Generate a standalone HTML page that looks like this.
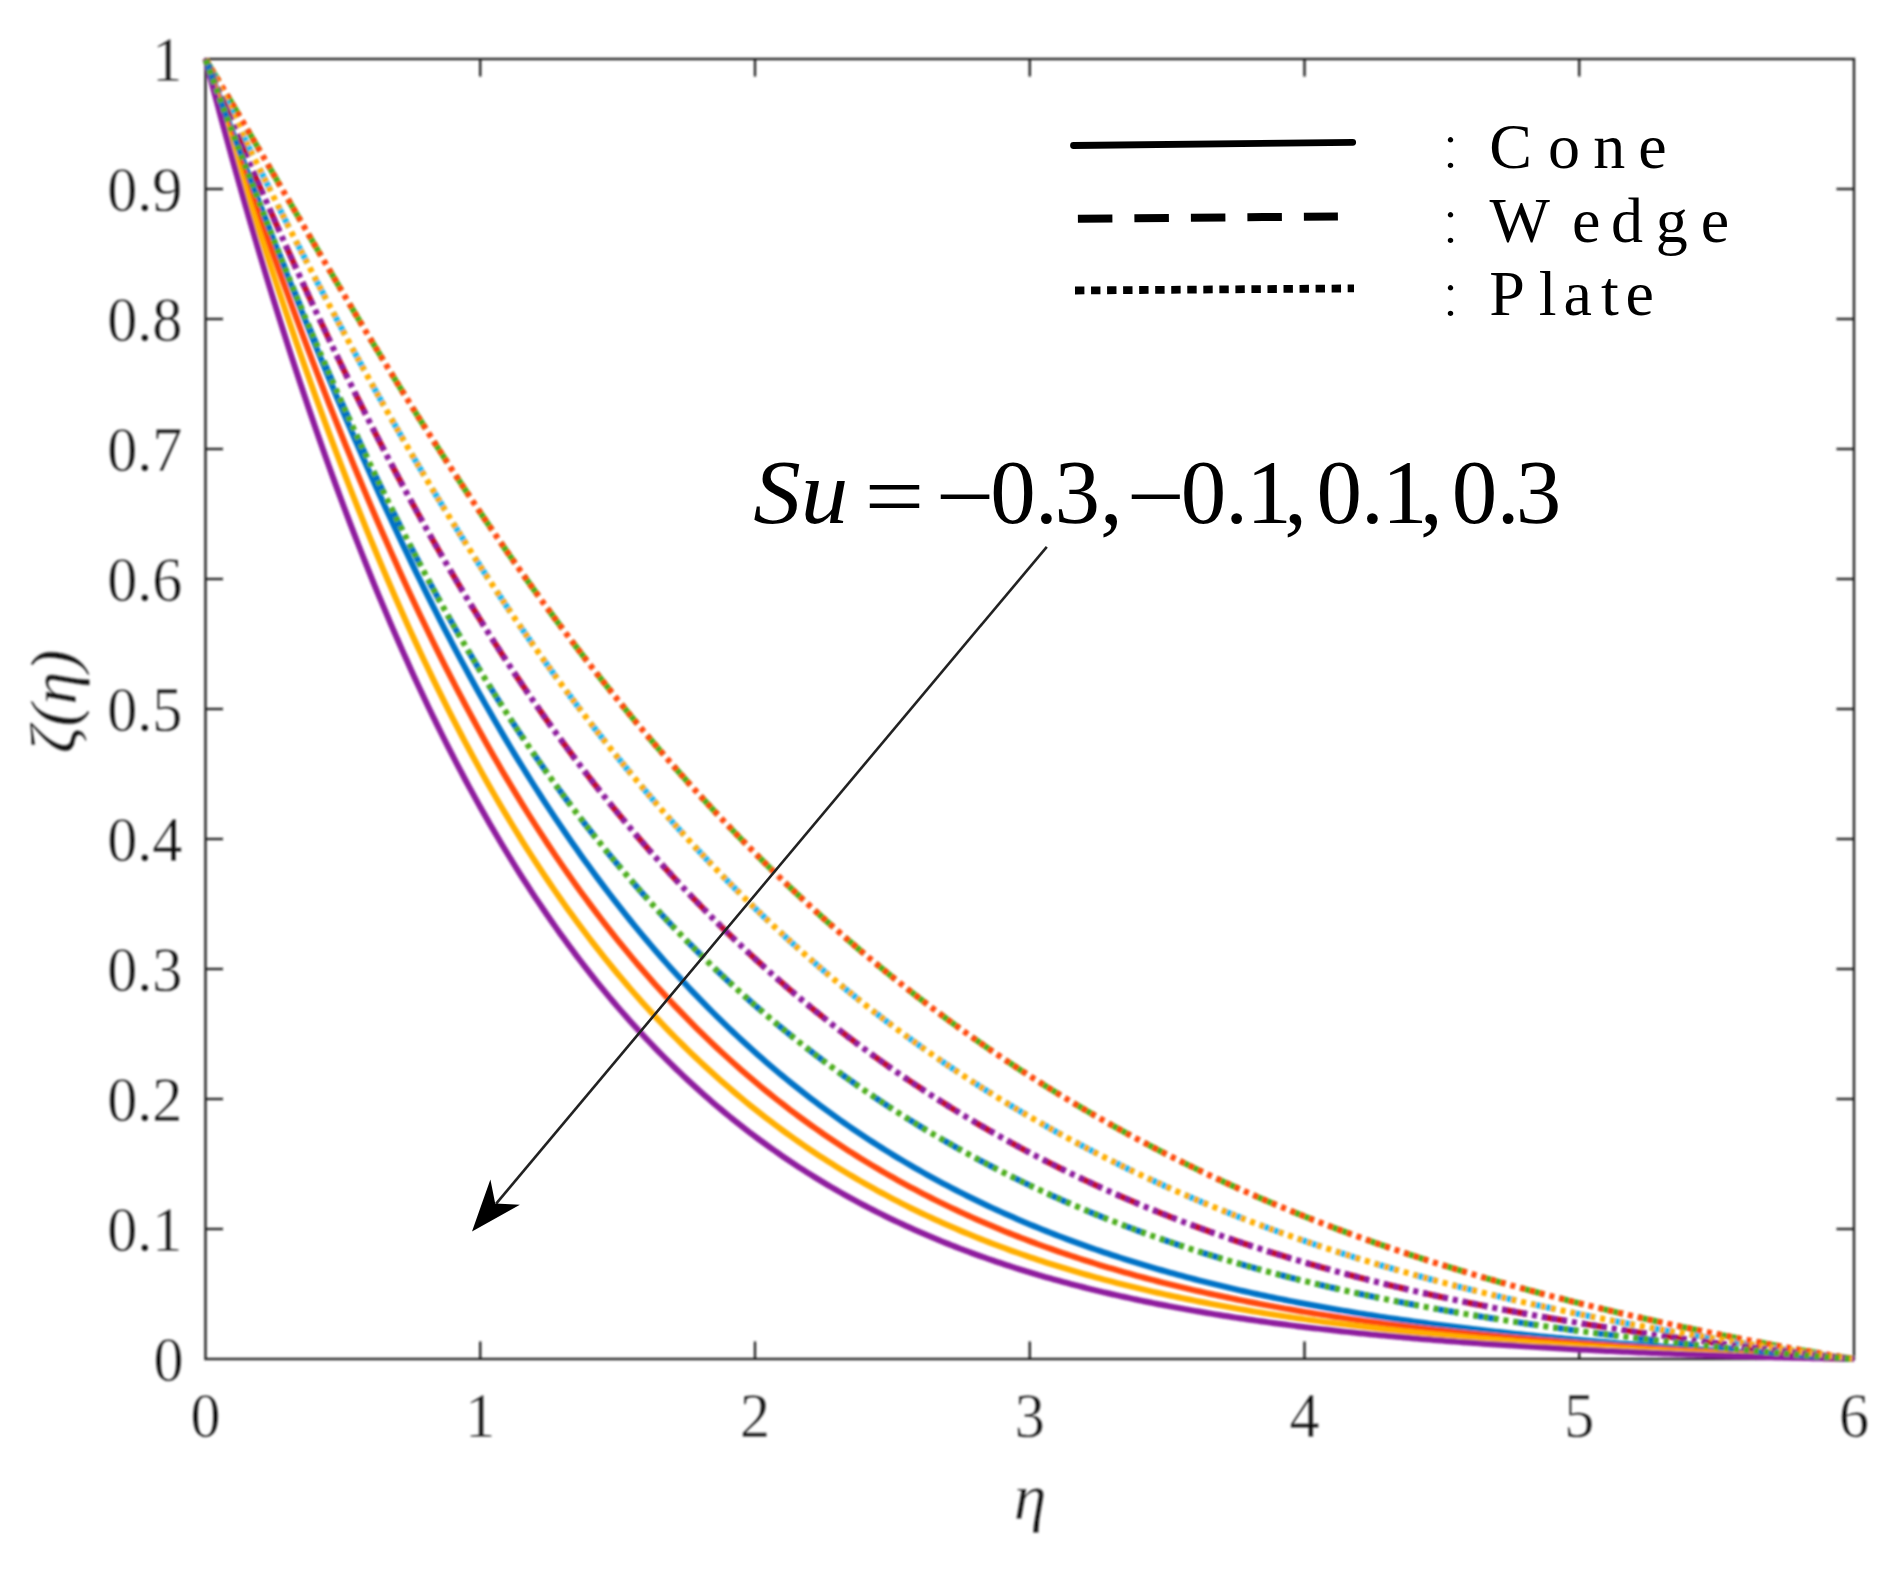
<!DOCTYPE html>
<html lang="en"><head><meta charset="utf-8"><title>Concentration profile</title>
<style>html,body{margin:0;padding:0;background:#fff;}body{width:1903px;height:1573px;overflow:hidden;}svg{display:block;}</style></head>
<body>
<svg width="1903" height="1573" viewBox="0 0 1903 1573">
<rect x="0" y="0" width="1903" height="1573" fill="#ffffff"/>
<defs><filter id="soft" filterUnits="userSpaceOnUse" x="0" y="0" width="1903" height="1573"><feGaussianBlur stdDeviation="0.8"/></filter></defs>
<g filter="url(#soft)">
<g stroke="#222222" stroke-width="2.4" fill="none">
<rect x="205.5" y="59.0" width="1648.5" height="1300.0"/>
<line x1="480.25" y1="1359.0" x2="480.25" y2="1341.5"/>
<line x1="480.25" y1="59.0" x2="480.25" y2="76.5"/>
<line x1="755.00" y1="1359.0" x2="755.00" y2="1341.5"/>
<line x1="755.00" y1="59.0" x2="755.00" y2="76.5"/>
<line x1="1029.75" y1="1359.0" x2="1029.75" y2="1341.5"/>
<line x1="1029.75" y1="59.0" x2="1029.75" y2="76.5"/>
<line x1="1304.50" y1="1359.0" x2="1304.50" y2="1341.5"/>
<line x1="1304.50" y1="59.0" x2="1304.50" y2="76.5"/>
<line x1="1579.25" y1="1359.0" x2="1579.25" y2="1341.5"/>
<line x1="1579.25" y1="59.0" x2="1579.25" y2="76.5"/>
<line x1="205.5" y1="1229.00" x2="223.0" y2="1229.00"/>
<line x1="1854.0" y1="1229.00" x2="1836.5" y2="1229.00"/>
<line x1="205.5" y1="1099.00" x2="223.0" y2="1099.00"/>
<line x1="1854.0" y1="1099.00" x2="1836.5" y2="1099.00"/>
<line x1="205.5" y1="969.00" x2="223.0" y2="969.00"/>
<line x1="1854.0" y1="969.00" x2="1836.5" y2="969.00"/>
<line x1="205.5" y1="839.00" x2="223.0" y2="839.00"/>
<line x1="1854.0" y1="839.00" x2="1836.5" y2="839.00"/>
<line x1="205.5" y1="709.00" x2="223.0" y2="709.00"/>
<line x1="1854.0" y1="709.00" x2="1836.5" y2="709.00"/>
<line x1="205.5" y1="579.00" x2="223.0" y2="579.00"/>
<line x1="1854.0" y1="579.00" x2="1836.5" y2="579.00"/>
<line x1="205.5" y1="449.00" x2="223.0" y2="449.00"/>
<line x1="1854.0" y1="449.00" x2="1836.5" y2="449.00"/>
<line x1="205.5" y1="319.00" x2="223.0" y2="319.00"/>
<line x1="1854.0" y1="319.00" x2="1836.5" y2="319.00"/>
<line x1="205.5" y1="189.00" x2="223.0" y2="189.00"/>
<line x1="1854.0" y1="189.00" x2="1836.5" y2="189.00"/>
</g>
<g fill="none" stroke-width="6.0" stroke-linejoin="round">
<path d="M205.50,59.00 L209.62,70.18 L213.74,81.34 L217.86,92.48 L221.99,103.60 L226.11,114.69 L230.23,125.76 L234.35,136.80 L238.47,147.81 L242.59,158.78 L246.71,169.72 L250.83,180.62 L254.95,191.49 L259.08,202.31 L263.20,213.09 L267.32,223.83 L271.44,234.52 L275.56,245.16 L279.68,255.75 L283.80,266.29 L287.93,276.78 L292.05,287.22 L296.17,297.61 L300.29,307.93 L304.41,318.21 L308.53,328.42 L312.65,338.58 L316.77,348.67 L320.89,358.71 L325.02,368.68 L329.14,378.59 L333.26,388.44 L337.38,398.22 L341.50,407.94 L345.62,417.60 L349.74,427.19 L353.87,436.71 L357.99,446.17 L362.11,455.55 L366.23,464.88 L370.35,474.13 L374.47,483.31 L378.59,492.43 L382.71,501.47 L386.83,510.45 L390.96,519.36 L395.08,528.20 L399.20,536.96 L403.32,545.66 L407.44,554.29 L411.56,562.85 L415.68,571.33 L419.81,579.75 L423.93,588.09 L428.05,596.37 L432.17,604.57 L436.29,612.71 L440.41,620.77 L444.53,628.76 L448.65,636.69 L452.77,644.54 L456.90,652.32 L461.02,660.04 L465.14,667.68 L469.26,675.26 L473.38,682.76 L477.50,690.20 L481.62,697.57 L485.75,704.87 L489.87,712.10 L493.99,719.26 L498.11,726.36 L502.23,733.39 L506.35,740.35 L510.47,747.25 L514.59,754.08 L518.71,760.84 L522.84,767.54 L526.96,774.17 L531.08,780.74 L535.20,787.25 L539.32,793.69 L543.44,800.06 L547.56,806.37 L551.68,812.62 L555.81,818.81 L559.93,824.94 L564.05,831.00 L568.17,837.00 L572.29,842.95 L576.41,848.83 L580.53,854.65 L584.65,860.41 L588.78,866.11 L592.90,871.76 L597.02,877.35 L601.14,882.87 L605.26,888.35 L609.38,893.76 L613.50,899.12 L617.62,904.42 L621.75,909.67 L625.87,914.86 L629.99,920.00 L634.11,925.08 L638.23,930.11 L642.35,935.09 L646.47,940.01 L650.60,944.88 L654.72,949.70 L658.84,954.47 L662.96,959.19 L667.08,963.86 L671.20,968.47 L675.32,973.04 L679.44,977.56 L683.57,982.03 L687.69,986.45 L691.81,990.83 L695.93,995.15 L700.05,999.43 L704.17,1003.67 L708.29,1007.86 L712.41,1012.00 L716.53,1016.09 L720.66,1020.15 L724.78,1024.15 L728.90,1028.12 L733.02,1032.04 L737.14,1035.92 L741.26,1039.75 L745.38,1043.55 L749.50,1047.30 L753.63,1051.01 L757.75,1054.68 L761.87,1058.31 L765.99,1061.89 L770.11,1065.44 L774.23,1068.95 L778.35,1072.42 L782.48,1075.86 L786.60,1079.25 L790.72,1082.61 L794.84,1085.93 L798.96,1089.21 L803.08,1092.45 L807.20,1095.66 L811.32,1098.84 L815.44,1101.97 L819.57,1105.08 L823.69,1108.15 L827.81,1111.18 L831.93,1114.18 L836.05,1117.15 L840.17,1120.08 L844.29,1122.98 L848.41,1125.85 L852.54,1128.68 L856.66,1131.48 L860.78,1134.25 L864.90,1136.99 L869.02,1139.70 L873.14,1142.38 L877.26,1145.03 L881.38,1147.65 L885.51,1150.24 L889.63,1152.80 L893.75,1155.33 L897.87,1157.83 L901.99,1160.30 L906.11,1162.74 L910.23,1165.16 L914.36,1167.55 L918.48,1169.91 L922.60,1172.25 L926.72,1174.56 L930.84,1176.84 L934.96,1179.10 L939.08,1181.33 L943.20,1183.53 L947.32,1185.71 L951.45,1187.87 L955.57,1190.00 L959.69,1192.10 L963.81,1194.18 L967.93,1196.24 L972.05,1198.27 L976.17,1200.28 L980.29,1202.27 L984.42,1204.24 L988.54,1206.18 L992.66,1208.10 L996.78,1209.99 L1000.90,1211.87 L1005.02,1213.72 L1009.14,1215.56 L1013.26,1217.37 L1017.39,1219.16 L1021.51,1220.93 L1025.63,1222.68 L1029.75,1224.40 L1033.87,1226.11 L1037.99,1227.80 L1042.11,1229.47 L1046.24,1231.12 L1050.36,1232.75 L1054.48,1234.36 L1058.60,1235.95 L1062.72,1237.53 L1066.84,1239.08 L1070.96,1240.62 L1075.08,1242.14 L1079.20,1243.64 L1083.33,1245.13 L1087.45,1246.60 L1091.57,1248.05 L1095.69,1249.48 L1099.81,1250.89 L1103.93,1252.29 L1108.05,1253.68 L1112.17,1255.04 L1116.30,1256.40 L1120.42,1257.73 L1124.54,1259.05 L1128.66,1260.35 L1132.78,1261.64 L1136.90,1262.92 L1141.02,1264.17 L1145.14,1265.42 L1149.27,1266.65 L1153.39,1267.86 L1157.51,1269.06 L1161.63,1270.25 L1165.75,1271.42 L1169.87,1272.58 L1173.99,1273.72 L1178.12,1274.85 L1182.24,1275.97 L1186.36,1277.08 L1190.48,1278.17 L1194.60,1279.25 L1198.72,1280.31 L1202.84,1281.37 L1206.96,1282.41 L1211.09,1283.43 L1215.21,1284.45 L1219.33,1285.46 L1223.45,1286.45 L1227.57,1287.43 L1231.69,1288.40 L1235.81,1289.36 L1239.93,1290.30 L1244.05,1291.24 L1248.18,1292.16 L1252.30,1293.07 L1256.42,1293.98 L1260.54,1294.87 L1264.66,1295.75 L1268.78,1296.62 L1272.90,1297.48 L1277.02,1298.33 L1281.15,1299.17 L1285.27,1300.00 L1289.39,1300.82 L1293.51,1301.63 L1297.63,1302.43 L1301.75,1303.22 L1305.87,1304.00 L1309.99,1304.78 L1314.12,1305.54 L1318.24,1306.29 L1322.36,1307.04 L1326.48,1307.78 L1330.60,1308.50 L1334.72,1309.22 L1338.84,1309.94 L1342.96,1310.64 L1347.09,1311.33 L1351.21,1312.02 L1355.33,1312.70 L1359.45,1313.37 L1363.57,1314.03 L1367.69,1314.69 L1371.81,1315.33 L1375.93,1315.97 L1380.06,1316.60 L1384.18,1317.23 L1388.30,1317.85 L1392.42,1318.46 L1396.54,1319.06 L1400.66,1319.66 L1404.78,1320.25 L1408.90,1320.83 L1413.03,1321.40 L1417.15,1321.97 L1421.27,1322.53 L1425.39,1323.09 L1429.51,1323.64 L1433.63,1324.18 L1437.75,1324.72 L1441.88,1325.25 L1446.00,1325.78 L1450.12,1326.30 L1454.24,1326.81 L1458.36,1327.32 L1462.48,1327.82 L1466.60,1328.32 L1470.72,1328.81 L1474.85,1329.29 L1478.97,1329.77 L1483.09,1330.24 L1487.21,1330.71 L1491.33,1331.18 L1495.45,1331.64 L1499.57,1332.09 L1503.69,1332.54 L1507.82,1332.98 L1511.94,1333.42 L1516.06,1333.86 L1520.18,1334.29 L1524.30,1334.71 L1528.42,1335.13 L1532.54,1335.55 L1536.66,1335.96 L1540.78,1336.37 L1544.91,1336.77 L1549.03,1337.17 L1553.15,1337.56 L1557.27,1337.95 L1561.39,1338.34 L1565.51,1338.72 L1569.63,1339.10 L1573.75,1339.48 L1577.88,1339.85 L1582.00,1340.22 L1586.12,1340.58 L1590.24,1340.94 L1594.36,1341.30 L1598.48,1341.65 L1602.60,1342.00 L1606.72,1342.35 L1610.85,1342.69 L1614.97,1343.03 L1619.09,1343.37 L1623.21,1343.70 L1627.33,1344.03 L1631.45,1344.36 L1635.57,1344.68 L1639.69,1345.01 L1643.82,1345.33 L1647.94,1345.64 L1652.06,1345.96 L1656.18,1346.27 L1660.30,1346.57 L1664.42,1346.88 L1668.54,1347.18 L1672.66,1347.48 L1676.79,1347.78 L1680.91,1348.08 L1685.03,1348.37 L1689.15,1348.66 L1693.27,1348.95 L1697.39,1349.24 L1701.51,1349.53 L1705.63,1349.81 L1709.76,1350.09 L1713.88,1350.37 L1718.00,1350.65 L1722.12,1350.92 L1726.24,1351.19 L1730.36,1351.46 L1734.48,1351.73 L1738.61,1352.00 L1742.73,1352.27 L1746.85,1352.53 L1750.97,1352.80 L1755.09,1353.06 L1759.21,1353.32 L1763.33,1353.58 L1767.45,1353.84 L1771.58,1354.09 L1775.70,1354.35 L1779.82,1354.60 L1783.94,1354.85 L1788.06,1355.10 L1792.18,1355.35 L1796.30,1355.60 L1800.42,1355.85 L1804.54,1356.10 L1808.67,1356.34 L1812.79,1356.59 L1816.91,1356.83 L1821.03,1357.08 L1825.15,1357.32 L1829.27,1357.56 L1833.39,1357.80 L1837.51,1358.04 L1841.64,1358.28 L1845.76,1358.52 L1849.88,1358.76 L1854.00,1359.00" stroke="#0072C6"/>
<path d="M205.50,59.00 L209.62,71.19 L213.74,83.36 L217.86,95.50 L221.99,107.61 L226.11,119.68 L230.23,131.73 L234.35,143.73 L238.47,155.69 L242.59,167.60 L246.71,179.47 L250.83,191.29 L254.95,203.06 L259.08,214.77 L263.20,226.42 L267.32,238.02 L271.44,249.55 L275.56,261.03 L279.68,272.44 L283.80,283.78 L287.93,295.06 L292.05,306.26 L296.17,317.40 L300.29,328.46 L304.41,339.45 L308.53,350.37 L312.65,361.21 L316.77,371.98 L320.89,382.66 L325.02,393.27 L329.14,403.80 L333.26,414.25 L337.38,424.62 L341.50,434.91 L345.62,445.11 L349.74,455.24 L353.87,465.28 L357.99,475.23 L362.11,485.11 L366.23,494.90 L370.35,504.60 L374.47,514.22 L378.59,523.76 L382.71,533.21 L386.83,542.57 L390.96,551.85 L395.08,561.05 L399.20,570.16 L403.32,579.18 L407.44,588.13 L411.56,596.98 L415.68,605.75 L419.81,614.44 L423.93,623.04 L428.05,631.56 L432.17,639.99 L436.29,648.34 L440.41,656.61 L444.53,664.80 L448.65,672.90 L452.77,680.92 L456.90,688.85 L461.02,696.71 L465.14,704.49 L469.26,712.18 L473.38,719.80 L477.50,727.33 L481.62,734.79 L485.75,742.16 L489.87,749.46 L493.99,756.68 L498.11,763.83 L502.23,770.90 L506.35,777.89 L510.47,784.80 L514.59,791.64 L518.71,798.41 L522.84,805.10 L526.96,811.72 L531.08,818.27 L535.20,824.74 L539.32,831.15 L543.44,837.48 L547.56,843.74 L551.68,849.93 L555.81,856.06 L559.93,862.11 L564.05,868.10 L568.17,874.02 L572.29,879.87 L576.41,885.66 L580.53,891.38 L584.65,897.04 L588.78,902.63 L592.90,908.16 L597.02,913.62 L601.14,919.03 L605.26,924.37 L609.38,929.65 L613.50,934.87 L617.62,940.03 L621.75,945.14 L625.87,950.18 L629.99,955.16 L634.11,960.09 L638.23,964.96 L642.35,969.78 L646.47,974.54 L650.60,979.24 L654.72,983.89 L658.84,988.48 L662.96,993.03 L667.08,997.51 L671.20,1001.95 L675.32,1006.34 L679.44,1010.67 L683.57,1014.95 L687.69,1019.19 L691.81,1023.37 L695.93,1027.51 L700.05,1031.59 L704.17,1035.63 L708.29,1039.62 L712.41,1043.57 L716.53,1047.47 L720.66,1051.32 L724.78,1055.13 L728.90,1058.89 L733.02,1062.61 L737.14,1066.28 L741.26,1069.92 L745.38,1073.51 L749.50,1077.05 L753.63,1080.56 L757.75,1084.02 L761.87,1087.44 L765.99,1090.83 L770.11,1094.17 L774.23,1097.47 L778.35,1100.73 L782.48,1103.96 L786.60,1107.15 L790.72,1110.30 L794.84,1113.41 L798.96,1116.48 L803.08,1119.52 L807.20,1122.53 L811.32,1125.49 L815.44,1128.43 L819.57,1131.32 L823.69,1134.19 L827.81,1137.01 L831.93,1139.81 L836.05,1142.57 L840.17,1145.30 L844.29,1148.00 L848.41,1150.66 L852.54,1153.30 L856.66,1155.90 L860.78,1158.47 L864.90,1161.01 L869.02,1163.52 L873.14,1166.00 L877.26,1168.45 L881.38,1170.87 L885.51,1173.26 L889.63,1175.62 L893.75,1177.96 L897.87,1180.27 L901.99,1182.55 L906.11,1184.80 L910.23,1187.02 L914.36,1189.22 L918.48,1191.40 L922.60,1193.54 L926.72,1195.66 L930.84,1197.76 L934.96,1199.83 L939.08,1201.87 L943.20,1203.90 L947.32,1205.89 L951.45,1207.86 L955.57,1209.81 L959.69,1211.74 L963.81,1213.64 L967.93,1215.52 L972.05,1217.38 L976.17,1219.21 L980.29,1221.02 L984.42,1222.81 L988.54,1224.58 L992.66,1226.33 L996.78,1228.05 L1000.90,1229.76 L1005.02,1231.44 L1009.14,1233.11 L1013.26,1234.75 L1017.39,1236.38 L1021.51,1237.98 L1025.63,1239.56 L1029.75,1241.13 L1033.87,1242.68 L1037.99,1244.20 L1042.11,1245.71 L1046.24,1247.20 L1050.36,1248.68 L1054.48,1250.13 L1058.60,1251.57 L1062.72,1252.99 L1066.84,1254.39 L1070.96,1255.78 L1075.08,1257.14 L1079.20,1258.50 L1083.33,1259.83 L1087.45,1261.15 L1091.57,1262.45 L1095.69,1263.74 L1099.81,1265.01 L1103.93,1266.27 L1108.05,1267.51 L1112.17,1268.73 L1116.30,1269.94 L1120.42,1271.14 L1124.54,1272.32 L1128.66,1273.48 L1132.78,1274.63 L1136.90,1275.77 L1141.02,1276.89 L1145.14,1278.00 L1149.27,1279.10 L1153.39,1280.18 L1157.51,1281.25 L1161.63,1282.31 L1165.75,1283.35 L1169.87,1284.38 L1173.99,1285.40 L1178.12,1286.40 L1182.24,1287.39 L1186.36,1288.37 L1190.48,1289.34 L1194.60,1290.30 L1198.72,1291.24 L1202.84,1292.18 L1206.96,1293.10 L1211.09,1294.01 L1215.21,1294.91 L1219.33,1295.79 L1223.45,1296.67 L1227.57,1297.54 L1231.69,1298.39 L1235.81,1299.24 L1239.93,1300.07 L1244.05,1300.89 L1248.18,1301.71 L1252.30,1302.51 L1256.42,1303.31 L1260.54,1304.09 L1264.66,1304.86 L1268.78,1305.63 L1272.90,1306.38 L1277.02,1307.13 L1281.15,1307.87 L1285.27,1308.60 L1289.39,1309.31 L1293.51,1310.02 L1297.63,1310.73 L1301.75,1311.42 L1305.87,1312.10 L1309.99,1312.78 L1314.12,1313.45 L1318.24,1314.11 L1322.36,1314.76 L1326.48,1315.40 L1330.60,1316.04 L1334.72,1316.66 L1338.84,1317.29 L1342.96,1317.90 L1347.09,1318.50 L1351.21,1319.10 L1355.33,1319.69 L1359.45,1320.28 L1363.57,1320.85 L1367.69,1321.42 L1371.81,1321.98 L1375.93,1322.54 L1380.06,1323.09 L1384.18,1323.63 L1388.30,1324.17 L1392.42,1324.70 L1396.54,1325.22 L1400.66,1325.74 L1404.78,1326.25 L1408.90,1326.75 L1413.03,1327.25 L1417.15,1327.75 L1421.27,1328.23 L1425.39,1328.72 L1429.51,1329.19 L1433.63,1329.66 L1437.75,1330.13 L1441.88,1330.59 L1446.00,1331.04 L1450.12,1331.49 L1454.24,1331.93 L1458.36,1332.37 L1462.48,1332.80 L1466.60,1333.23 L1470.72,1333.66 L1474.85,1334.07 L1478.97,1334.49 L1483.09,1334.90 L1487.21,1335.30 L1491.33,1335.70 L1495.45,1336.10 L1499.57,1336.49 L1503.69,1336.88 L1507.82,1337.26 L1511.94,1337.64 L1516.06,1338.01 L1520.18,1338.38 L1524.30,1338.75 L1528.42,1339.11 L1532.54,1339.47 L1536.66,1339.82 L1540.78,1340.17 L1544.91,1340.52 L1549.03,1340.86 L1553.15,1341.20 L1557.27,1341.54 L1561.39,1341.87 L1565.51,1342.20 L1569.63,1342.53 L1573.75,1342.85 L1577.88,1343.17 L1582.00,1343.48 L1586.12,1343.79 L1590.24,1344.10 L1594.36,1344.41 L1598.48,1344.71 L1602.60,1345.01 L1606.72,1345.31 L1610.85,1345.60 L1614.97,1345.90 L1619.09,1346.18 L1623.21,1346.47 L1627.33,1346.75 L1631.45,1347.03 L1635.57,1347.31 L1639.69,1347.59 L1643.82,1347.86 L1647.94,1348.13 L1652.06,1348.39 L1656.18,1348.66 L1660.30,1348.92 L1664.42,1349.18 L1668.54,1349.44 L1672.66,1349.69 L1676.79,1349.95 L1680.91,1350.20 L1685.03,1350.45 L1689.15,1350.69 L1693.27,1350.94 L1697.39,1351.18 L1701.51,1351.42 L1705.63,1351.66 L1709.76,1351.89 L1713.88,1352.13 L1718.00,1352.36 L1722.12,1352.59 L1726.24,1352.81 L1730.36,1353.04 L1734.48,1353.26 L1738.61,1353.49 L1742.73,1353.71 L1746.85,1353.92 L1750.97,1354.14 L1755.09,1354.36 L1759.21,1354.57 L1763.33,1354.78 L1767.45,1354.99 L1771.58,1355.20 L1775.70,1355.40 L1779.82,1355.61 L1783.94,1355.81 L1788.06,1356.01 L1792.18,1356.21 L1796.30,1356.41 L1800.42,1356.60 L1804.54,1356.80 L1808.67,1356.99 L1812.79,1357.18 L1816.91,1357.37 L1821.03,1357.56 L1825.15,1357.74 L1829.27,1357.93 L1833.39,1358.11 L1837.51,1358.29 L1841.64,1358.47 L1845.76,1358.65 L1849.88,1358.83 L1854.00,1359.00" stroke="#FF4A0A"/>
<path d="M205.50,59.00 L209.62,72.64 L213.74,86.22 L217.86,99.74 L221.99,113.20 L226.11,126.59 L230.23,139.91 L234.35,153.16 L238.47,166.34 L242.59,179.43 L246.71,192.45 L250.83,205.38 L254.95,218.23 L259.08,230.99 L263.20,243.66 L267.32,256.25 L271.44,268.74 L275.56,281.14 L279.68,293.44 L283.80,305.65 L287.93,317.76 L292.05,329.78 L296.17,341.69 L300.29,353.51 L304.41,365.22 L308.53,376.83 L312.65,388.34 L316.77,399.75 L320.89,411.05 L325.02,422.25 L329.14,433.35 L333.26,444.34 L337.38,455.23 L341.50,466.02 L345.62,476.69 L349.74,487.27 L353.87,497.74 L357.99,508.10 L362.11,518.36 L366.23,528.52 L370.35,538.57 L374.47,548.52 L378.59,558.37 L382.71,568.11 L386.83,577.75 L390.96,587.28 L395.08,596.72 L399.20,606.05 L403.32,615.28 L407.44,624.41 L411.56,633.44 L415.68,642.38 L419.81,651.21 L423.93,659.95 L428.05,668.58 L432.17,677.13 L436.29,685.57 L440.41,693.92 L444.53,702.18 L448.65,710.34 L452.77,718.40 L456.90,726.38 L461.02,734.26 L465.14,742.05 L469.26,749.76 L473.38,757.37 L477.50,764.89 L481.62,772.33 L485.75,779.68 L489.87,786.94 L493.99,794.12 L498.11,801.21 L502.23,808.22 L506.35,815.15 L510.47,821.99 L514.59,828.75 L518.71,835.44 L522.84,842.04 L526.96,848.56 L531.08,855.01 L535.20,861.38 L539.32,867.67 L543.44,873.88 L547.56,880.02 L551.68,886.09 L555.81,892.09 L559.93,898.01 L564.05,903.86 L568.17,909.64 L572.29,915.35 L576.41,920.99 L580.53,926.56 L584.65,932.06 L588.78,937.50 L592.90,942.87 L597.02,948.17 L601.14,953.42 L605.26,958.59 L609.38,963.71 L613.50,968.76 L617.62,973.75 L621.75,978.67 L625.87,983.54 L629.99,988.35 L634.11,993.10 L638.23,997.79 L642.35,1002.43 L646.47,1007.00 L650.60,1011.53 L654.72,1015.99 L658.84,1020.40 L662.96,1024.76 L667.08,1029.06 L671.20,1033.31 L675.32,1037.51 L679.44,1041.66 L683.57,1045.75 L687.69,1049.79 L691.81,1053.79 L695.93,1057.74 L700.05,1061.63 L704.17,1065.48 L708.29,1069.28 L712.41,1073.04 L716.53,1076.75 L720.66,1080.41 L724.78,1084.03 L728.90,1087.60 L733.02,1091.13 L737.14,1094.61 L741.26,1098.05 L745.38,1101.45 L749.50,1104.81 L753.63,1108.12 L757.75,1111.40 L761.87,1114.63 L765.99,1117.82 L770.11,1120.98 L774.23,1124.09 L778.35,1127.17 L782.48,1130.21 L786.60,1133.21 L790.72,1136.17 L794.84,1139.10 L798.96,1141.98 L803.08,1144.84 L807.20,1147.66 L811.32,1150.44 L815.44,1153.19 L819.57,1155.90 L823.69,1158.58 L827.81,1161.23 L831.93,1163.84 L836.05,1166.42 L840.17,1168.97 L844.29,1171.48 L848.41,1173.97 L852.54,1176.42 L856.66,1178.84 L860.78,1181.23 L864.90,1183.60 L869.02,1185.93 L873.14,1188.23 L877.26,1190.51 L881.38,1192.75 L885.51,1194.97 L889.63,1197.16 L893.75,1199.32 L897.87,1201.45 L901.99,1203.56 L906.11,1205.64 L910.23,1207.69 L914.36,1209.72 L918.48,1211.72 L922.60,1213.70 L926.72,1215.65 L930.84,1217.57 L934.96,1219.47 L939.08,1221.35 L943.20,1223.20 L947.32,1225.03 L951.45,1226.84 L955.57,1228.62 L959.69,1230.38 L963.81,1232.12 L967.93,1233.84 L972.05,1235.53 L976.17,1237.20 L980.29,1238.85 L984.42,1240.48 L988.54,1242.09 L992.66,1243.68 L996.78,1245.24 L1000.90,1246.79 L1005.02,1248.31 L1009.14,1249.82 L1013.26,1251.31 L1017.39,1252.78 L1021.51,1254.22 L1025.63,1255.65 L1029.75,1257.07 L1033.87,1258.46 L1037.99,1259.83 L1042.11,1261.19 L1046.24,1262.53 L1050.36,1263.85 L1054.48,1265.15 L1058.60,1266.44 L1062.72,1267.71 L1066.84,1268.97 L1070.96,1270.20 L1075.08,1271.42 L1079.20,1272.63 L1083.33,1273.82 L1087.45,1274.99 L1091.57,1276.15 L1095.69,1277.29 L1099.81,1278.42 L1103.93,1279.54 L1108.05,1280.63 L1112.17,1281.72 L1116.30,1282.79 L1120.42,1283.84 L1124.54,1284.89 L1128.66,1285.91 L1132.78,1286.93 L1136.90,1287.93 L1141.02,1288.92 L1145.14,1289.89 L1149.27,1290.86 L1153.39,1291.80 L1157.51,1292.74 L1161.63,1293.67 L1165.75,1294.58 L1169.87,1295.48 L1173.99,1296.37 L1178.12,1297.24 L1182.24,1298.11 L1186.36,1298.96 L1190.48,1299.80 L1194.60,1300.64 L1198.72,1301.46 L1202.84,1302.27 L1206.96,1303.06 L1211.09,1303.85 L1215.21,1304.63 L1219.33,1305.40 L1223.45,1306.16 L1227.57,1306.90 L1231.69,1307.64 L1235.81,1308.37 L1239.93,1309.09 L1244.05,1309.80 L1248.18,1310.50 L1252.30,1311.19 L1256.42,1311.87 L1260.54,1312.55 L1264.66,1313.21 L1268.78,1313.87 L1272.90,1314.51 L1277.02,1315.15 L1281.15,1315.78 L1285.27,1316.40 L1289.39,1317.02 L1293.51,1317.63 L1297.63,1318.22 L1301.75,1318.82 L1305.87,1319.40 L1309.99,1319.97 L1314.12,1320.54 L1318.24,1321.10 L1322.36,1321.66 L1326.48,1322.21 L1330.60,1322.75 L1334.72,1323.28 L1338.84,1323.81 L1342.96,1324.33 L1347.09,1324.84 L1351.21,1325.35 L1355.33,1325.85 L1359.45,1326.35 L1363.57,1326.84 L1367.69,1327.32 L1371.81,1327.80 L1375.93,1328.27 L1380.06,1328.73 L1384.18,1329.19 L1388.30,1329.65 L1392.42,1330.09 L1396.54,1330.54 L1400.66,1330.98 L1404.78,1331.41 L1408.90,1331.84 L1413.03,1332.26 L1417.15,1332.68 L1421.27,1333.09 L1425.39,1333.50 L1429.51,1333.90 L1433.63,1334.30 L1437.75,1334.70 L1441.88,1335.09 L1446.00,1335.47 L1450.12,1335.85 L1454.24,1336.23 L1458.36,1336.60 L1462.48,1336.97 L1466.60,1337.33 L1470.72,1337.69 L1474.85,1338.05 L1478.97,1338.40 L1483.09,1338.75 L1487.21,1339.10 L1491.33,1339.44 L1495.45,1339.77 L1499.57,1340.11 L1503.69,1340.44 L1507.82,1340.77 L1511.94,1341.09 L1516.06,1341.41 L1520.18,1341.73 L1524.30,1342.04 L1528.42,1342.35 L1532.54,1342.66 L1536.66,1342.96 L1540.78,1343.26 L1544.91,1343.56 L1549.03,1343.86 L1553.15,1344.15 L1557.27,1344.44 L1561.39,1344.72 L1565.51,1345.01 L1569.63,1345.29 L1573.75,1345.57 L1577.88,1345.84 L1582.00,1346.12 L1586.12,1346.39 L1590.24,1346.65 L1594.36,1346.92 L1598.48,1347.18 L1602.60,1347.44 L1606.72,1347.70 L1610.85,1347.95 L1614.97,1348.21 L1619.09,1348.46 L1623.21,1348.71 L1627.33,1348.95 L1631.45,1349.20 L1635.57,1349.44 L1639.69,1349.68 L1643.82,1349.91 L1647.94,1350.15 L1652.06,1350.38 L1656.18,1350.61 L1660.30,1350.84 L1664.42,1351.06 L1668.54,1351.29 L1672.66,1351.51 L1676.79,1351.73 L1680.91,1351.94 L1685.03,1352.16 L1689.15,1352.37 L1693.27,1352.58 L1697.39,1352.79 L1701.51,1353.00 L1705.63,1353.20 L1709.76,1353.40 L1713.88,1353.60 L1718.00,1353.80 L1722.12,1353.99 L1726.24,1354.19 L1730.36,1354.38 L1734.48,1354.57 L1738.61,1354.75 L1742.73,1354.94 L1746.85,1355.12 L1750.97,1355.30 L1755.09,1355.48 L1759.21,1355.65 L1763.33,1355.82 L1767.45,1355.99 L1771.58,1356.16 L1775.70,1356.33 L1779.82,1356.49 L1783.94,1356.65 L1788.06,1356.81 L1792.18,1356.97 L1796.30,1357.12 L1800.42,1357.27 L1804.54,1357.42 L1808.67,1357.57 L1812.79,1357.71 L1816.91,1357.85 L1821.03,1357.99 L1825.15,1358.13 L1829.27,1358.26 L1833.39,1358.39 L1837.51,1358.52 L1841.64,1358.64 L1845.76,1358.76 L1849.88,1358.88 L1854.00,1359.00" stroke="#FFAE00"/>
<path d="M205.50,59.00 L209.62,74.77 L213.74,90.38 L217.86,105.84 L221.99,121.14 L226.11,136.29 L230.23,151.28 L234.35,166.12 L238.47,180.80 L242.59,195.33 L246.71,209.71 L250.83,223.94 L254.95,238.02 L259.08,251.95 L263.20,265.73 L267.32,279.37 L271.44,292.85 L275.56,306.19 L279.68,319.38 L283.80,332.43 L287.93,345.34 L292.05,358.10 L296.17,370.72 L300.29,383.21 L304.41,395.55 L308.53,407.75 L312.65,419.81 L316.77,431.74 L320.89,443.54 L325.02,455.19 L329.14,466.72 L333.26,478.11 L337.38,489.37 L341.50,500.51 L345.62,511.51 L349.74,522.38 L353.87,533.13 L357.99,543.75 L362.11,554.25 L366.23,564.63 L370.35,574.88 L374.47,585.01 L378.59,595.02 L382.71,604.91 L386.83,614.68 L390.96,624.34 L395.08,633.88 L399.20,643.31 L403.32,652.62 L407.44,661.82 L411.56,670.91 L415.68,679.89 L419.81,688.76 L423.93,697.53 L428.05,706.18 L432.17,714.73 L436.29,723.18 L440.41,731.52 L444.53,739.76 L448.65,747.90 L452.77,755.94 L456.90,763.88 L461.02,771.72 L465.14,779.47 L469.26,787.12 L473.38,794.67 L477.50,802.13 L481.62,809.50 L485.75,816.78 L489.87,823.96 L493.99,831.06 L498.11,838.06 L502.23,844.98 L506.35,851.81 L510.47,858.56 L514.59,865.22 L518.71,871.79 L522.84,878.29 L526.96,884.70 L531.08,891.03 L535.20,897.28 L539.32,903.45 L543.44,909.55 L547.56,915.56 L551.68,921.50 L555.81,927.37 L559.93,933.15 L564.05,938.87 L568.17,944.51 L572.29,950.08 L576.41,955.58 L580.53,961.01 L584.65,966.37 L588.78,971.66 L592.90,976.88 L597.02,982.04 L601.14,987.12 L605.26,992.15 L609.38,997.11 L613.50,1002.00 L617.62,1006.83 L621.75,1011.60 L625.87,1016.31 L629.99,1020.95 L634.11,1025.54 L638.23,1030.07 L642.35,1034.53 L646.47,1038.94 L650.60,1043.30 L654.72,1047.59 L658.84,1051.83 L662.96,1056.02 L667.08,1060.15 L671.20,1064.22 L675.32,1068.24 L679.44,1072.21 L683.57,1076.13 L687.69,1080.00 L691.81,1083.82 L695.93,1087.58 L700.05,1091.30 L704.17,1094.97 L708.29,1098.59 L712.41,1102.16 L716.53,1105.69 L720.66,1109.16 L724.78,1112.60 L728.90,1115.98 L733.02,1119.33 L737.14,1122.63 L741.26,1125.88 L745.38,1129.09 L749.50,1132.26 L753.63,1135.39 L757.75,1138.48 L761.87,1141.52 L765.99,1144.53 L770.11,1147.49 L774.23,1150.42 L778.35,1153.31 L782.48,1156.16 L786.60,1158.97 L790.72,1161.74 L794.84,1164.48 L798.96,1167.18 L803.08,1169.84 L807.20,1172.47 L811.32,1175.06 L815.44,1177.62 L819.57,1180.14 L823.69,1182.63 L827.81,1185.09 L831.93,1187.52 L836.05,1189.91 L840.17,1192.27 L844.29,1194.59 L848.41,1196.89 L852.54,1199.16 L856.66,1201.39 L860.78,1203.60 L864.90,1205.77 L869.02,1207.92 L873.14,1210.04 L877.26,1212.13 L881.38,1214.19 L885.51,1216.22 L889.63,1218.22 L893.75,1220.20 L897.87,1222.15 L901.99,1224.08 L906.11,1225.98 L910.23,1227.85 L914.36,1229.70 L918.48,1231.52 L922.60,1233.32 L926.72,1235.10 L930.84,1236.85 L934.96,1238.57 L939.08,1240.27 L943.20,1241.95 L947.32,1243.61 L951.45,1245.24 L955.57,1246.86 L959.69,1248.45 L963.81,1250.02 L967.93,1251.56 L972.05,1253.09 L976.17,1254.59 L980.29,1256.08 L984.42,1257.54 L988.54,1258.99 L992.66,1260.41 L996.78,1261.82 L1000.90,1263.20 L1005.02,1264.57 L1009.14,1265.92 L1013.26,1267.25 L1017.39,1268.56 L1021.51,1269.86 L1025.63,1271.13 L1029.75,1272.39 L1033.87,1273.63 L1037.99,1274.86 L1042.11,1276.07 L1046.24,1277.26 L1050.36,1278.43 L1054.48,1279.59 L1058.60,1280.73 L1062.72,1281.86 L1066.84,1282.97 L1070.96,1284.07 L1075.08,1285.15 L1079.20,1286.22 L1083.33,1287.27 L1087.45,1288.31 L1091.57,1289.34 L1095.69,1290.35 L1099.81,1291.34 L1103.93,1292.32 L1108.05,1293.29 L1112.17,1294.25 L1116.30,1295.19 L1120.42,1296.12 L1124.54,1297.04 L1128.66,1297.94 L1132.78,1298.84 L1136.90,1299.72 L1141.02,1300.59 L1145.14,1301.44 L1149.27,1302.29 L1153.39,1303.12 L1157.51,1303.94 L1161.63,1304.75 L1165.75,1305.55 L1169.87,1306.34 L1173.99,1307.12 L1178.12,1307.89 L1182.24,1308.64 L1186.36,1309.39 L1190.48,1310.13 L1194.60,1310.85 L1198.72,1311.57 L1202.84,1312.28 L1206.96,1312.97 L1211.09,1313.66 L1215.21,1314.34 L1219.33,1315.01 L1223.45,1315.67 L1227.57,1316.32 L1231.69,1316.96 L1235.81,1317.60 L1239.93,1318.22 L1244.05,1318.84 L1248.18,1319.45 L1252.30,1320.05 L1256.42,1320.64 L1260.54,1321.23 L1264.66,1321.80 L1268.78,1322.37 L1272.90,1322.94 L1277.02,1323.49 L1281.15,1324.04 L1285.27,1324.58 L1289.39,1325.11 L1293.51,1325.63 L1297.63,1326.15 L1301.75,1326.66 L1305.87,1327.17 L1309.99,1327.66 L1314.12,1328.16 L1318.24,1328.64 L1322.36,1329.12 L1326.48,1329.59 L1330.60,1330.06 L1334.72,1330.52 L1338.84,1330.97 L1342.96,1331.42 L1347.09,1331.86 L1351.21,1332.30 L1355.33,1332.73 L1359.45,1333.15 L1363.57,1333.57 L1367.69,1333.99 L1371.81,1334.40 L1375.93,1334.80 L1380.06,1335.20 L1384.18,1335.59 L1388.30,1335.98 L1392.42,1336.36 L1396.54,1336.74 L1400.66,1337.11 L1404.78,1337.48 L1408.90,1337.85 L1413.03,1338.21 L1417.15,1338.56 L1421.27,1338.91 L1425.39,1339.26 L1429.51,1339.60 L1433.63,1339.93 L1437.75,1340.27 L1441.88,1340.60 L1446.00,1340.92 L1450.12,1341.24 L1454.24,1341.56 L1458.36,1341.87 L1462.48,1342.18 L1466.60,1342.48 L1470.72,1342.79 L1474.85,1343.08 L1478.97,1343.38 L1483.09,1343.67 L1487.21,1343.95 L1491.33,1344.24 L1495.45,1344.52 L1499.57,1344.79 L1503.69,1345.06 L1507.82,1345.33 L1511.94,1345.60 L1516.06,1345.86 L1520.18,1346.12 L1524.30,1346.38 L1528.42,1346.63 L1532.54,1346.88 L1536.66,1347.13 L1540.78,1347.37 L1544.91,1347.61 L1549.03,1347.85 L1553.15,1348.09 L1557.27,1348.32 L1561.39,1348.55 L1565.51,1348.77 L1569.63,1349.00 L1573.75,1349.22 L1577.88,1349.44 L1582.00,1349.65 L1586.12,1349.87 L1590.24,1350.08 L1594.36,1350.28 L1598.48,1350.49 L1602.60,1350.69 L1606.72,1350.89 L1610.85,1351.09 L1614.97,1351.29 L1619.09,1351.48 L1623.21,1351.67 L1627.33,1351.86 L1631.45,1352.04 L1635.57,1352.23 L1639.69,1352.41 L1643.82,1352.59 L1647.94,1352.77 L1652.06,1352.94 L1656.18,1353.11 L1660.30,1353.28 L1664.42,1353.45 L1668.54,1353.62 L1672.66,1353.78 L1676.79,1353.94 L1680.91,1354.10 L1685.03,1354.26 L1689.15,1354.41 L1693.27,1354.57 L1697.39,1354.72 L1701.51,1354.86 L1705.63,1355.01 L1709.76,1355.16 L1713.88,1355.30 L1718.00,1355.44 L1722.12,1355.58 L1726.24,1355.72 L1730.36,1355.85 L1734.48,1355.98 L1738.61,1356.11 L1742.73,1356.24 L1746.85,1356.37 L1750.97,1356.49 L1755.09,1356.62 L1759.21,1356.74 L1763.33,1356.86 L1767.45,1356.97 L1771.58,1357.09 L1775.70,1357.20 L1779.82,1357.31 L1783.94,1357.42 L1788.06,1357.53 L1792.18,1357.64 L1796.30,1357.74 L1800.42,1357.84 L1804.54,1357.94 L1808.67,1358.04 L1812.79,1358.14 L1816.91,1358.23 L1821.03,1358.33 L1825.15,1358.42 L1829.27,1358.51 L1833.39,1358.59 L1837.51,1358.68 L1841.64,1358.76 L1845.76,1358.84 L1849.88,1358.92 L1854.00,1359.00" stroke="#8E1F9E"/>
<path d="M205.50,59.00 L209.62,65.83 L213.74,72.69 L217.86,79.58 L221.99,86.49 L226.11,93.43 L230.23,100.38 L234.35,107.36 L238.47,114.35 L242.59,121.36 L246.71,128.39 L250.83,135.42 L254.95,142.47 L259.08,149.53 L263.20,156.59 L267.32,163.66 L271.44,170.74 L275.56,177.82 L279.68,184.90 L283.80,191.98 L287.93,199.06 L292.05,206.14 L296.17,213.22 L300.29,220.29 L304.41,227.36 L308.53,234.42 L312.65,241.47 L316.77,248.52 L320.89,255.55 L325.02,262.58 L329.14,269.59 L333.26,276.59 L337.38,283.57 L341.50,290.54 L345.62,297.50 L349.74,304.44 L353.87,311.36 L357.99,318.27 L362.11,325.16 L366.23,332.02 L370.35,338.87 L374.47,345.70 L378.59,352.51 L382.71,359.29 L386.83,366.06 L390.96,372.80 L395.08,379.52 L399.20,386.21 L403.32,392.88 L407.44,399.53 L411.56,406.15 L415.68,412.74 L419.81,419.31 L423.93,425.85 L428.05,432.36 L432.17,438.85 L436.29,445.31 L440.41,451.75 L444.53,458.15 L448.65,464.53 L452.77,470.87 L456.90,477.19 L461.02,483.48 L465.14,489.74 L469.26,495.97 L473.38,502.17 L477.50,508.34 L481.62,514.48 L485.75,520.59 L489.87,526.67 L493.99,532.72 L498.11,538.74 L502.23,544.73 L506.35,550.69 L510.47,556.61 L514.59,562.51 L518.71,568.37 L522.84,574.20 L526.96,580.00 L531.08,585.77 L535.20,591.51 L539.32,597.21 L543.44,602.89 L547.56,608.53 L551.68,614.14 L555.81,619.72 L559.93,625.27 L564.05,630.79 L568.17,636.28 L572.29,641.73 L576.41,647.16 L580.53,652.55 L584.65,657.91 L588.78,663.24 L592.90,668.53 L597.02,673.80 L601.14,679.04 L605.26,684.24 L609.38,689.42 L613.50,694.56 L617.62,699.67 L621.75,704.75 L625.87,709.80 L629.99,714.82 L634.11,719.81 L638.23,724.77 L642.35,729.70 L646.47,734.60 L650.60,739.47 L654.72,744.31 L658.84,749.12 L662.96,753.90 L667.08,758.65 L671.20,763.37 L675.32,768.06 L679.44,772.72 L683.57,777.35 L687.69,781.96 L691.81,786.53 L695.93,791.08 L700.05,795.59 L704.17,800.08 L708.29,804.54 L712.41,808.97 L716.53,813.38 L720.66,817.75 L724.78,822.10 L728.90,826.42 L733.02,830.72 L737.14,834.98 L741.26,839.22 L745.38,843.43 L749.50,847.61 L753.63,851.77 L757.75,855.90 L761.87,860.00 L765.99,864.08 L770.11,868.13 L774.23,872.16 L778.35,876.16 L782.48,880.13 L786.60,884.07 L790.72,888.00 L794.84,891.89 L798.96,895.76 L803.08,899.61 L807.20,903.43 L811.32,907.22 L815.44,910.99 L819.57,914.73 L823.69,918.46 L827.81,922.15 L831.93,925.82 L836.05,929.47 L840.17,933.09 L844.29,936.69 L848.41,940.27 L852.54,943.82 L856.66,947.35 L860.78,950.86 L864.90,954.34 L869.02,957.80 L873.14,961.23 L877.26,964.65 L881.38,968.04 L885.51,971.40 L889.63,974.75 L893.75,978.07 L897.87,981.37 L901.99,984.65 L906.11,987.91 L910.23,991.14 L914.36,994.36 L918.48,997.55 L922.60,1000.72 L926.72,1003.87 L930.84,1006.99 L934.96,1010.10 L939.08,1013.19 L943.20,1016.25 L947.32,1019.29 L951.45,1022.32 L955.57,1025.32 L959.69,1028.30 L963.81,1031.26 L967.93,1034.20 L972.05,1037.13 L976.17,1040.03 L980.29,1042.91 L984.42,1045.77 L988.54,1048.61 L992.66,1051.44 L996.78,1054.24 L1000.90,1057.03 L1005.02,1059.79 L1009.14,1062.54 L1013.26,1065.27 L1017.39,1067.97 L1021.51,1070.66 L1025.63,1073.34 L1029.75,1075.99 L1033.87,1078.62 L1037.99,1081.24 L1042.11,1083.84 L1046.24,1086.42 L1050.36,1088.98 L1054.48,1091.52 L1058.60,1094.05 L1062.72,1096.56 L1066.84,1099.05 L1070.96,1101.52 L1075.08,1103.98 L1079.20,1106.42 L1083.33,1108.84 L1087.45,1111.25 L1091.57,1113.63 L1095.69,1116.01 L1099.81,1118.36 L1103.93,1120.70 L1108.05,1123.02 L1112.17,1125.32 L1116.30,1127.61 L1120.42,1129.89 L1124.54,1132.14 L1128.66,1134.38 L1132.78,1136.61 L1136.90,1138.82 L1141.02,1141.01 L1145.14,1143.19 L1149.27,1145.35 L1153.39,1147.49 L1157.51,1149.63 L1161.63,1151.74 L1165.75,1153.84 L1169.87,1155.93 L1173.99,1158.00 L1178.12,1160.05 L1182.24,1162.09 L1186.36,1164.12 L1190.48,1166.13 L1194.60,1168.13 L1198.72,1170.11 L1202.84,1172.08 L1206.96,1174.04 L1211.09,1175.98 L1215.21,1177.90 L1219.33,1179.81 L1223.45,1181.71 L1227.57,1183.60 L1231.69,1185.47 L1235.81,1187.33 L1239.93,1189.17 L1244.05,1191.00 L1248.18,1192.82 L1252.30,1194.62 L1256.42,1196.41 L1260.54,1198.19 L1264.66,1199.96 L1268.78,1201.71 L1272.90,1203.45 L1277.02,1205.18 L1281.15,1206.89 L1285.27,1208.59 L1289.39,1210.28 L1293.51,1211.96 L1297.63,1213.62 L1301.75,1215.28 L1305.87,1216.92 L1309.99,1218.55 L1314.12,1220.16 L1318.24,1221.77 L1322.36,1223.36 L1326.48,1224.94 L1330.60,1226.51 L1334.72,1228.07 L1338.84,1229.62 L1342.96,1231.16 L1347.09,1232.68 L1351.21,1234.20 L1355.33,1235.70 L1359.45,1237.19 L1363.57,1238.68 L1367.69,1240.15 L1371.81,1241.61 L1375.93,1243.06 L1380.06,1244.50 L1384.18,1245.92 L1388.30,1247.34 L1392.42,1248.75 L1396.54,1250.15 L1400.66,1251.54 L1404.78,1252.92 L1408.90,1254.28 L1413.03,1255.64 L1417.15,1256.99 L1421.27,1258.33 L1425.39,1259.66 L1429.51,1260.98 L1433.63,1262.29 L1437.75,1263.59 L1441.88,1264.89 L1446.00,1266.17 L1450.12,1267.44 L1454.24,1268.71 L1458.36,1269.96 L1462.48,1271.21 L1466.60,1272.45 L1470.72,1273.68 L1474.85,1274.90 L1478.97,1276.11 L1483.09,1277.32 L1487.21,1278.51 L1491.33,1279.70 L1495.45,1280.88 L1499.57,1282.05 L1503.69,1283.21 L1507.82,1284.37 L1511.94,1285.52 L1516.06,1286.66 L1520.18,1287.79 L1524.30,1288.91 L1528.42,1290.03 L1532.54,1291.14 L1536.66,1292.24 L1540.78,1293.33 L1544.91,1294.42 L1549.03,1295.50 L1553.15,1296.57 L1557.27,1297.63 L1561.39,1298.69 L1565.51,1299.74 L1569.63,1300.79 L1573.75,1301.82 L1577.88,1302.85 L1582.00,1303.88 L1586.12,1304.89 L1590.24,1305.90 L1594.36,1306.91 L1598.48,1307.91 L1602.60,1308.90 L1606.72,1309.88 L1610.85,1310.86 L1614.97,1311.83 L1619.09,1312.80 L1623.21,1313.76 L1627.33,1314.71 L1631.45,1315.66 L1635.57,1316.60 L1639.69,1317.53 L1643.82,1318.46 L1647.94,1319.39 L1652.06,1320.30 L1656.18,1321.22 L1660.30,1322.12 L1664.42,1323.02 L1668.54,1323.92 L1672.66,1324.81 L1676.79,1325.69 L1680.91,1326.57 L1685.03,1327.45 L1689.15,1328.31 L1693.27,1329.18 L1697.39,1330.03 L1701.51,1330.89 L1705.63,1331.73 L1709.76,1332.58 L1713.88,1333.41 L1718.00,1334.25 L1722.12,1335.07 L1726.24,1335.89 L1730.36,1336.71 L1734.48,1337.52 L1738.61,1338.33 L1742.73,1339.13 L1746.85,1339.93 L1750.97,1340.72 L1755.09,1341.51 L1759.21,1342.29 L1763.33,1343.07 L1767.45,1343.84 L1771.58,1344.61 L1775.70,1345.38 L1779.82,1346.13 L1783.94,1346.89 L1788.06,1347.64 L1792.18,1348.38 L1796.30,1349.12 L1800.42,1349.86 L1804.54,1350.59 L1808.67,1351.32 L1812.79,1352.04 L1816.91,1352.76 L1821.03,1353.47 L1825.15,1354.18 L1829.27,1354.88 L1833.39,1355.58 L1837.51,1356.27 L1841.64,1356.96 L1845.76,1357.65 L1849.88,1358.32 L1854.00,1359.00" stroke="#4DAE1E" stroke-dasharray="25.25 15.15" stroke-dashoffset="-1.0"/>
<path d="M205.50,59.00 L209.62,67.44 L213.74,75.87 L217.86,84.30 L221.99,92.72 L226.11,101.13 L230.23,109.53 L234.35,117.91 L238.47,126.28 L242.59,134.64 L246.71,142.98 L250.83,151.30 L254.95,159.60 L259.08,167.89 L263.20,176.15 L267.32,184.40 L271.44,192.62 L275.56,200.81 L279.68,208.99 L283.80,217.14 L287.93,225.26 L292.05,233.35 L296.17,241.42 L300.29,249.46 L304.41,257.48 L308.53,265.46 L312.65,273.41 L316.77,281.33 L320.89,289.22 L325.02,297.08 L329.14,304.91 L333.26,312.70 L337.38,320.46 L341.50,328.18 L345.62,335.87 L349.74,343.53 L353.87,351.15 L357.99,358.73 L362.11,366.28 L366.23,373.79 L370.35,381.26 L374.47,388.70 L378.59,396.10 L382.71,403.46 L386.83,410.78 L390.96,418.07 L395.08,425.31 L399.20,432.52 L403.32,439.69 L407.44,446.82 L411.56,453.91 L415.68,460.96 L419.81,467.97 L423.93,474.94 L428.05,481.87 L432.17,488.76 L436.29,495.61 L440.41,502.42 L444.53,509.19 L448.65,515.92 L452.77,522.60 L456.90,529.25 L461.02,535.86 L465.14,542.43 L469.26,548.95 L473.38,555.44 L477.50,561.88 L481.62,568.29 L485.75,574.65 L489.87,580.97 L493.99,587.25 L498.11,593.50 L502.23,599.70 L506.35,605.86 L510.47,611.98 L514.59,618.06 L518.71,624.10 L522.84,630.10 L526.96,636.06 L531.08,641.98 L535.20,647.86 L539.32,653.71 L543.44,659.51 L547.56,665.27 L551.68,670.99 L555.81,676.68 L559.93,682.32 L564.05,687.93 L568.17,693.50 L572.29,699.03 L576.41,704.52 L580.53,709.97 L584.65,715.39 L588.78,720.76 L592.90,726.10 L597.02,731.41 L601.14,736.67 L605.26,741.90 L609.38,747.09 L613.50,752.24 L617.62,757.36 L621.75,762.44 L625.87,767.48 L629.99,772.49 L634.11,777.46 L638.23,782.39 L642.35,787.29 L646.47,792.16 L650.60,796.99 L654.72,801.78 L658.84,806.54 L662.96,811.27 L667.08,815.96 L671.20,820.62 L675.32,825.24 L679.44,829.83 L683.57,834.38 L687.69,838.90 L691.81,843.39 L695.93,847.85 L700.05,852.27 L704.17,856.66 L708.29,861.02 L712.41,865.34 L716.53,869.64 L720.66,873.90 L724.78,878.13 L728.90,882.33 L733.02,886.49 L737.14,890.63 L741.26,894.74 L745.38,898.81 L749.50,902.86 L753.63,906.87 L757.75,910.86 L761.87,914.81 L765.99,918.74 L770.11,922.63 L774.23,926.50 L778.35,930.33 L782.48,934.14 L786.60,937.92 L790.72,941.67 L794.84,945.40 L798.96,949.09 L803.08,952.76 L807.20,956.40 L811.32,960.01 L815.44,963.60 L819.57,967.16 L823.69,970.69 L827.81,974.19 L831.93,977.67 L836.05,981.12 L840.17,984.55 L844.29,987.95 L848.41,991.32 L852.54,994.67 L856.66,997.99 L860.78,1001.29 L864.90,1004.56 L869.02,1007.81 L873.14,1011.03 L877.26,1014.23 L881.38,1017.40 L885.51,1020.55 L889.63,1023.68 L893.75,1026.78 L897.87,1029.86 L901.99,1032.91 L906.11,1035.94 L910.23,1038.95 L914.36,1041.93 L918.48,1044.90 L922.60,1047.84 L926.72,1050.75 L930.84,1053.65 L934.96,1056.52 L939.08,1059.37 L943.20,1062.20 L947.32,1065.00 L951.45,1067.79 L955.57,1070.55 L959.69,1073.29 L963.81,1076.02 L967.93,1078.72 L972.05,1081.40 L976.17,1084.05 L980.29,1086.69 L984.42,1089.31 L988.54,1091.91 L992.66,1094.49 L996.78,1097.04 L1000.90,1099.58 L1005.02,1102.10 L1009.14,1104.60 L1013.26,1107.08 L1017.39,1109.54 L1021.51,1111.98 L1025.63,1114.40 L1029.75,1116.80 L1033.87,1119.19 L1037.99,1121.55 L1042.11,1123.90 L1046.24,1126.23 L1050.36,1128.54 L1054.48,1130.84 L1058.60,1133.11 L1062.72,1135.37 L1066.84,1137.61 L1070.96,1139.83 L1075.08,1142.04 L1079.20,1144.23 L1083.33,1146.40 L1087.45,1148.55 L1091.57,1150.69 L1095.69,1152.81 L1099.81,1154.91 L1103.93,1157.00 L1108.05,1159.07 L1112.17,1161.13 L1116.30,1163.16 L1120.42,1165.19 L1124.54,1167.19 L1128.66,1169.18 L1132.78,1171.16 L1136.90,1173.12 L1141.02,1175.06 L1145.14,1176.99 L1149.27,1178.91 L1153.39,1180.81 L1157.51,1182.69 L1161.63,1184.56 L1165.75,1186.41 L1169.87,1188.25 L1173.99,1190.08 L1178.12,1191.89 L1182.24,1193.68 L1186.36,1195.47 L1190.48,1197.23 L1194.60,1198.99 L1198.72,1200.73 L1202.84,1202.45 L1206.96,1204.17 L1211.09,1205.86 L1215.21,1207.55 L1219.33,1209.22 L1223.45,1210.88 L1227.57,1212.53 L1231.69,1214.16 L1235.81,1215.78 L1239.93,1217.39 L1244.05,1218.98 L1248.18,1220.56 L1252.30,1222.13 L1256.42,1223.69 L1260.54,1225.23 L1264.66,1226.76 L1268.78,1228.28 L1272.90,1229.79 L1277.02,1231.28 L1281.15,1232.77 L1285.27,1234.24 L1289.39,1235.70 L1293.51,1237.15 L1297.63,1238.58 L1301.75,1240.01 L1305.87,1241.42 L1309.99,1242.83 L1314.12,1244.22 L1318.24,1245.60 L1322.36,1246.97 L1326.48,1248.33 L1330.60,1249.67 L1334.72,1251.01 L1338.84,1252.34 L1342.96,1253.65 L1347.09,1254.96 L1351.21,1256.25 L1355.33,1257.54 L1359.45,1258.81 L1363.57,1260.08 L1367.69,1261.33 L1371.81,1262.57 L1375.93,1263.81 L1380.06,1265.03 L1384.18,1266.25 L1388.30,1267.45 L1392.42,1268.65 L1396.54,1269.84 L1400.66,1271.01 L1404.78,1272.18 L1408.90,1273.34 L1413.03,1274.49 L1417.15,1275.63 L1421.27,1276.76 L1425.39,1277.88 L1429.51,1279.00 L1433.63,1280.10 L1437.75,1281.20 L1441.88,1282.28 L1446.00,1283.36 L1450.12,1284.43 L1454.24,1285.50 L1458.36,1286.55 L1462.48,1287.59 L1466.60,1288.63 L1470.72,1289.66 L1474.85,1290.68 L1478.97,1291.70 L1483.09,1292.70 L1487.21,1293.70 L1491.33,1294.69 L1495.45,1295.67 L1499.57,1296.65 L1503.69,1297.61 L1507.82,1298.57 L1511.94,1299.53 L1516.06,1300.47 L1520.18,1301.41 L1524.30,1302.34 L1528.42,1303.27 L1532.54,1304.18 L1536.66,1305.09 L1540.78,1306.00 L1544.91,1306.89 L1549.03,1307.78 L1553.15,1308.66 L1557.27,1309.54 L1561.39,1310.41 L1565.51,1311.27 L1569.63,1312.13 L1573.75,1312.98 L1577.88,1313.83 L1582.00,1314.66 L1586.12,1315.49 L1590.24,1316.32 L1594.36,1317.14 L1598.48,1317.95 L1602.60,1318.76 L1606.72,1319.56 L1610.85,1320.36 L1614.97,1321.15 L1619.09,1321.94 L1623.21,1322.71 L1627.33,1323.49 L1631.45,1324.26 L1635.57,1325.02 L1639.69,1325.78 L1643.82,1326.53 L1647.94,1327.27 L1652.06,1328.02 L1656.18,1328.75 L1660.30,1329.48 L1664.42,1330.21 L1668.54,1330.93 L1672.66,1331.65 L1676.79,1332.36 L1680.91,1333.06 L1685.03,1333.77 L1689.15,1334.46 L1693.27,1335.16 L1697.39,1335.84 L1701.51,1336.53 L1705.63,1337.20 L1709.76,1337.88 L1713.88,1338.55 L1718.00,1339.21 L1722.12,1339.87 L1726.24,1340.53 L1730.36,1341.18 L1734.48,1341.83 L1738.61,1342.48 L1742.73,1343.12 L1746.85,1343.75 L1750.97,1344.38 L1755.09,1345.01 L1759.21,1345.64 L1763.33,1346.26 L1767.45,1346.87 L1771.58,1347.49 L1775.70,1348.09 L1779.82,1348.70 L1783.94,1349.30 L1788.06,1349.90 L1792.18,1350.49 L1796.30,1351.08 L1800.42,1351.67 L1804.54,1352.25 L1808.67,1352.83 L1812.79,1353.41 L1816.91,1353.99 L1821.03,1354.56 L1825.15,1355.12 L1829.27,1355.69 L1833.39,1356.25 L1837.51,1356.80 L1841.64,1357.36 L1845.76,1357.91 L1849.88,1358.46 L1854.00,1359.00" stroke="#12BDF2" stroke-dasharray="25.25 15.15" stroke-dashoffset="-1.0"/>
<path d="M205.50,59.00 L209.62,68.84 L213.74,78.65 L217.86,88.45 L221.99,98.23 L226.11,107.98 L230.23,117.70 L234.35,127.40 L238.47,137.07 L242.59,146.71 L246.71,156.31 L250.83,165.88 L254.95,175.41 L259.08,184.91 L263.20,194.37 L267.32,203.79 L271.44,213.16 L275.56,222.50 L279.68,231.79 L283.80,241.03 L287.93,250.23 L292.05,259.39 L296.17,268.49 L300.29,277.55 L304.41,286.56 L308.53,295.52 L312.65,304.42 L316.77,313.28 L320.89,322.09 L325.02,330.84 L329.14,339.54 L333.26,348.19 L337.38,356.78 L341.50,365.32 L345.62,373.80 L349.74,382.23 L353.87,390.60 L357.99,398.92 L362.11,407.18 L366.23,415.38 L370.35,423.53 L374.47,431.62 L378.59,439.66 L382.71,447.64 L386.83,455.56 L390.96,463.43 L395.08,471.23 L399.20,478.98 L403.32,486.68 L407.44,494.32 L411.56,501.90 L415.68,509.42 L419.81,516.88 L423.93,524.29 L428.05,531.65 L432.17,538.94 L436.29,546.18 L440.41,553.37 L444.53,560.50 L448.65,567.57 L452.77,574.59 L456.90,581.55 L461.02,588.45 L465.14,595.30 L469.26,602.10 L473.38,608.84 L477.50,615.53 L481.62,622.16 L485.75,628.74 L489.87,635.27 L493.99,641.74 L498.11,648.17 L502.23,654.53 L506.35,660.85 L510.47,667.11 L514.59,673.33 L518.71,679.49 L522.84,685.60 L526.96,691.66 L531.08,697.67 L535.20,703.63 L539.32,709.54 L543.44,715.40 L547.56,721.22 L551.68,726.98 L555.81,732.70 L559.93,738.37 L564.05,743.99 L568.17,749.56 L572.29,755.09 L576.41,760.57 L580.53,766.01 L584.65,771.40 L588.78,776.74 L592.90,782.04 L597.02,787.30 L601.14,792.51 L605.26,797.68 L609.38,802.80 L613.50,807.88 L617.62,812.92 L621.75,817.92 L625.87,822.87 L629.99,827.78 L634.11,832.65 L638.23,837.48 L642.35,842.27 L646.47,847.02 L650.60,851.73 L654.72,856.40 L658.84,861.03 L662.96,865.63 L667.08,870.18 L671.20,874.69 L675.32,879.17 L679.44,883.61 L683.57,888.02 L687.69,892.38 L691.81,896.71 L695.93,901.00 L700.05,905.26 L704.17,909.48 L708.29,913.67 L712.41,917.82 L716.53,921.94 L720.66,926.02 L724.78,930.07 L728.90,934.08 L733.02,938.07 L737.14,942.01 L741.26,945.93 L745.38,949.81 L749.50,953.66 L753.63,957.48 L757.75,961.27 L761.87,965.02 L765.99,968.75 L770.11,972.44 L774.23,976.10 L778.35,979.74 L782.48,983.34 L786.60,986.91 L790.72,990.45 L794.84,993.97 L798.96,997.45 L803.08,1000.91 L807.20,1004.33 L811.32,1007.73 L815.44,1011.10 L819.57,1014.44 L823.69,1017.76 L827.81,1021.05 L831.93,1024.31 L836.05,1027.54 L840.17,1030.75 L844.29,1033.93 L848.41,1037.08 L852.54,1040.21 L856.66,1043.31 L860.78,1046.38 L864.90,1049.43 L869.02,1052.46 L873.14,1055.46 L877.26,1058.44 L881.38,1061.39 L885.51,1064.31 L889.63,1067.22 L893.75,1070.09 L897.87,1072.95 L901.99,1075.78 L906.11,1078.59 L910.23,1081.37 L914.36,1084.13 L918.48,1086.87 L922.60,1089.58 L926.72,1092.28 L930.84,1094.95 L934.96,1097.59 L939.08,1100.22 L943.20,1102.82 L947.32,1105.40 L951.45,1107.97 L955.57,1110.50 L959.69,1113.02 L963.81,1115.52 L967.93,1118.00 L972.05,1120.45 L976.17,1122.89 L980.29,1125.30 L984.42,1127.69 L988.54,1130.07 L992.66,1132.42 L996.78,1134.76 L1000.90,1137.07 L1005.02,1139.37 L1009.14,1141.64 L1013.26,1143.90 L1017.39,1146.13 L1021.51,1148.35 L1025.63,1150.55 L1029.75,1152.73 L1033.87,1154.90 L1037.99,1157.04 L1042.11,1159.17 L1046.24,1161.27 L1050.36,1163.36 L1054.48,1165.43 L1058.60,1167.49 L1062.72,1169.52 L1066.84,1171.54 L1070.96,1173.55 L1075.08,1175.53 L1079.20,1177.50 L1083.33,1179.45 L1087.45,1181.38 L1091.57,1183.30 L1095.69,1185.20 L1099.81,1187.08 L1103.93,1188.95 L1108.05,1190.80 L1112.17,1192.64 L1116.30,1194.45 L1120.42,1196.26 L1124.54,1198.05 L1128.66,1199.82 L1132.78,1201.57 L1136.90,1203.32 L1141.02,1205.04 L1145.14,1206.75 L1149.27,1208.45 L1153.39,1210.13 L1157.51,1211.80 L1161.63,1213.45 L1165.75,1215.08 L1169.87,1216.71 L1173.99,1218.31 L1178.12,1219.91 L1182.24,1221.49 L1186.36,1223.05 L1190.48,1224.61 L1194.60,1226.14 L1198.72,1227.67 L1202.84,1229.18 L1206.96,1230.68 L1211.09,1232.16 L1215.21,1233.63 L1219.33,1235.09 L1223.45,1236.53 L1227.57,1237.97 L1231.69,1239.38 L1235.81,1240.79 L1239.93,1242.18 L1244.05,1243.56 L1248.18,1244.93 L1252.30,1246.29 L1256.42,1247.63 L1260.54,1248.97 L1264.66,1250.29 L1268.78,1251.59 L1272.90,1252.89 L1277.02,1254.18 L1281.15,1255.45 L1285.27,1256.71 L1289.39,1257.96 L1293.51,1259.20 L1297.63,1260.43 L1301.75,1261.65 L1305.87,1262.85 L1309.99,1264.05 L1314.12,1265.23 L1318.24,1266.40 L1322.36,1267.57 L1326.48,1268.72 L1330.60,1269.86 L1334.72,1270.99 L1338.84,1272.12 L1342.96,1273.23 L1347.09,1274.33 L1351.21,1275.42 L1355.33,1276.50 L1359.45,1277.58 L1363.57,1278.64 L1367.69,1279.69 L1371.81,1280.73 L1375.93,1281.77 L1380.06,1282.79 L1384.18,1283.81 L1388.30,1284.82 L1392.42,1285.81 L1396.54,1286.80 L1400.66,1287.78 L1404.78,1288.76 L1408.90,1289.72 L1413.03,1290.67 L1417.15,1291.62 L1421.27,1292.56 L1425.39,1293.49 L1429.51,1294.41 L1433.63,1295.32 L1437.75,1296.23 L1441.88,1297.12 L1446.00,1298.01 L1450.12,1298.90 L1454.24,1299.77 L1458.36,1300.64 L1462.48,1301.50 L1466.60,1302.35 L1470.72,1303.19 L1474.85,1304.03 L1478.97,1304.86 L1483.09,1305.68 L1487.21,1306.50 L1491.33,1307.31 L1495.45,1308.11 L1499.57,1308.91 L1503.69,1309.69 L1507.82,1310.48 L1511.94,1311.25 L1516.06,1312.02 L1520.18,1312.79 L1524.30,1313.54 L1528.42,1314.29 L1532.54,1315.04 L1536.66,1315.78 L1540.78,1316.51 L1544.91,1317.23 L1549.03,1317.96 L1553.15,1318.67 L1557.27,1319.38 L1561.39,1320.08 L1565.51,1320.78 L1569.63,1321.47 L1573.75,1322.16 L1577.88,1322.84 L1582.00,1323.52 L1586.12,1324.19 L1590.24,1324.86 L1594.36,1325.52 L1598.48,1326.18 L1602.60,1326.83 L1606.72,1327.47 L1610.85,1328.11 L1614.97,1328.75 L1619.09,1329.38 L1623.21,1330.01 L1627.33,1330.63 L1631.45,1331.25 L1635.57,1331.86 L1639.69,1332.47 L1643.82,1333.08 L1647.94,1333.68 L1652.06,1334.28 L1656.18,1334.87 L1660.30,1335.46 L1664.42,1336.04 L1668.54,1336.62 L1672.66,1337.19 L1676.79,1337.77 L1680.91,1338.33 L1685.03,1338.90 L1689.15,1339.46 L1693.27,1340.01 L1697.39,1340.56 L1701.51,1341.11 L1705.63,1341.66 L1709.76,1342.20 L1713.88,1342.74 L1718.00,1343.27 L1722.12,1343.80 L1726.24,1344.33 L1730.36,1344.85 L1734.48,1345.37 L1738.61,1345.89 L1742.73,1346.40 L1746.85,1346.91 L1750.97,1347.41 L1755.09,1347.92 L1759.21,1348.42 L1763.33,1348.91 L1767.45,1349.41 L1771.58,1349.89 L1775.70,1350.38 L1779.82,1350.86 L1783.94,1351.34 L1788.06,1351.82 L1792.18,1352.29 L1796.30,1352.76 L1800.42,1353.23 L1804.54,1353.69 L1808.67,1354.15 L1812.79,1354.61 L1816.91,1355.06 L1821.03,1355.51 L1825.15,1355.96 L1829.27,1356.41 L1833.39,1356.85 L1837.51,1357.28 L1841.64,1357.72 L1845.76,1358.15 L1849.88,1358.58 L1854.00,1359.00" stroke="#BE0A2E" stroke-dasharray="25.25 15.15" stroke-dashoffset="-1.0"/>
<path d="M205.50,59.00 L209.62,70.28 L213.74,81.53 L217.86,92.74 L221.99,103.91 L226.11,115.03 L230.23,126.11 L234.35,137.14 L238.47,148.12 L242.59,159.05 L246.71,169.92 L250.83,180.74 L254.95,191.50 L259.08,202.20 L263.20,212.84 L267.32,223.41 L271.44,233.93 L275.56,244.37 L279.68,254.75 L283.80,265.07 L287.93,275.31 L292.05,285.49 L296.17,295.59 L300.29,305.62 L304.41,315.58 L308.53,325.47 L312.65,335.29 L316.77,345.03 L320.89,354.69 L325.02,364.28 L329.14,373.80 L333.26,383.24 L337.38,392.61 L341.50,401.89 L345.62,411.11 L349.74,420.24 L353.87,429.30 L357.99,438.29 L362.11,447.19 L366.23,456.02 L370.35,464.78 L374.47,473.45 L378.59,482.06 L382.71,490.58 L386.83,499.03 L390.96,507.40 L395.08,515.70 L399.20,523.92 L403.32,532.07 L407.44,540.15 L411.56,548.15 L415.68,556.07 L419.81,563.93 L423.93,571.71 L428.05,579.41 L432.17,587.05 L436.29,594.61 L440.41,602.10 L444.53,609.52 L448.65,616.87 L452.77,624.15 L456.90,631.37 L461.02,638.51 L465.14,645.58 L469.26,652.59 L473.38,659.53 L477.50,666.40 L481.62,673.21 L485.75,679.95 L489.87,686.63 L493.99,693.24 L498.11,699.79 L502.23,706.27 L506.35,712.70 L510.47,719.06 L514.59,725.36 L518.71,731.59 L522.84,737.77 L526.96,743.89 L531.08,749.95 L535.20,755.95 L539.32,761.89 L543.44,767.77 L547.56,773.60 L551.68,779.37 L555.81,785.09 L559.93,790.75 L564.05,796.35 L568.17,801.91 L572.29,807.40 L576.41,812.85 L580.53,818.24 L584.65,823.58 L588.78,828.87 L592.90,834.11 L597.02,839.30 L601.14,844.44 L605.26,849.53 L609.38,854.57 L613.50,859.57 L617.62,864.51 L621.75,869.41 L625.87,874.26 L629.99,879.07 L634.11,883.83 L638.23,888.55 L642.35,893.22 L646.47,897.85 L650.60,902.43 L654.72,906.97 L658.84,911.47 L662.96,915.92 L667.08,920.34 L671.20,924.71 L675.32,929.04 L679.44,933.33 L683.57,937.58 L687.69,941.80 L691.81,945.97 L695.93,950.10 L700.05,954.20 L704.17,958.26 L708.29,962.28 L712.41,966.26 L716.53,970.21 L720.66,974.12 L724.78,977.99 L728.90,981.83 L733.02,985.63 L737.14,989.40 L741.26,993.13 L745.38,996.83 L749.50,1000.50 L753.63,1004.13 L757.75,1007.73 L761.87,1011.30 L765.99,1014.83 L770.11,1018.33 L774.23,1021.80 L778.35,1025.24 L782.48,1028.65 L786.60,1032.02 L790.72,1035.37 L794.84,1038.68 L798.96,1041.97 L803.08,1045.22 L807.20,1048.45 L811.32,1051.65 L815.44,1054.81 L819.57,1057.95 L823.69,1061.06 L827.81,1064.15 L831.93,1067.20 L836.05,1070.23 L840.17,1073.23 L844.29,1076.20 L848.41,1079.15 L852.54,1082.07 L856.66,1084.96 L860.78,1087.83 L864.90,1090.67 L869.02,1093.48 L873.14,1096.27 L877.26,1099.04 L881.38,1101.78 L885.51,1104.49 L889.63,1107.18 L893.75,1109.85 L897.87,1112.49 L901.99,1115.11 L906.11,1117.70 L910.23,1120.27 L914.36,1122.82 L918.48,1125.34 L922.60,1127.84 L926.72,1130.32 L930.84,1132.77 L934.96,1135.21 L939.08,1137.62 L943.20,1140.01 L947.32,1142.37 L951.45,1144.72 L955.57,1147.04 L959.69,1149.34 L963.81,1151.62 L967.93,1153.88 L972.05,1156.12 L976.17,1158.34 L980.29,1160.54 L984.42,1162.71 L988.54,1164.87 L992.66,1167.01 L996.78,1169.12 L1000.90,1171.22 L1005.02,1173.30 L1009.14,1175.36 L1013.26,1177.40 L1017.39,1179.42 L1021.51,1181.42 L1025.63,1183.40 L1029.75,1185.36 L1033.87,1187.31 L1037.99,1189.23 L1042.11,1191.14 L1046.24,1193.03 L1050.36,1194.91 L1054.48,1196.76 L1058.60,1198.60 L1062.72,1200.42 L1066.84,1202.22 L1070.96,1204.00 L1075.08,1205.77 L1079.20,1207.52 L1083.33,1209.25 L1087.45,1210.97 L1091.57,1212.67 L1095.69,1214.36 L1099.81,1216.02 L1103.93,1217.68 L1108.05,1219.31 L1112.17,1220.93 L1116.30,1222.54 L1120.42,1224.12 L1124.54,1225.70 L1128.66,1227.25 L1132.78,1228.80 L1136.90,1230.32 L1141.02,1231.84 L1145.14,1233.33 L1149.27,1234.82 L1153.39,1236.28 L1157.51,1237.74 L1161.63,1239.18 L1165.75,1240.60 L1169.87,1242.01 L1173.99,1243.41 L1178.12,1244.79 L1182.24,1246.16 L1186.36,1247.52 L1190.48,1248.86 L1194.60,1250.19 L1198.72,1251.50 L1202.84,1252.81 L1206.96,1254.09 L1211.09,1255.37 L1215.21,1256.63 L1219.33,1257.89 L1223.45,1259.12 L1227.57,1260.35 L1231.69,1261.56 L1235.81,1262.77 L1239.93,1263.96 L1244.05,1265.13 L1248.18,1266.30 L1252.30,1267.45 L1256.42,1268.60 L1260.54,1269.73 L1264.66,1270.85 L1268.78,1271.96 L1272.90,1273.06 L1277.02,1274.14 L1281.15,1275.22 L1285.27,1276.28 L1289.39,1277.34 L1293.51,1278.38 L1297.63,1279.41 L1301.75,1280.44 L1305.87,1281.45 L1309.99,1282.45 L1314.12,1283.45 L1318.24,1284.43 L1322.36,1285.40 L1326.48,1286.37 L1330.60,1287.32 L1334.72,1288.26 L1338.84,1289.20 L1342.96,1290.13 L1347.09,1291.04 L1351.21,1291.95 L1355.33,1292.85 L1359.45,1293.74 L1363.57,1294.62 L1367.69,1295.49 L1371.81,1296.36 L1375.93,1297.21 L1380.06,1298.06 L1384.18,1298.90 L1388.30,1299.73 L1392.42,1300.56 L1396.54,1301.37 L1400.66,1302.18 L1404.78,1302.98 L1408.90,1303.77 L1413.03,1304.56 L1417.15,1305.33 L1421.27,1306.10 L1425.39,1306.87 L1429.51,1307.62 L1433.63,1308.37 L1437.75,1309.11 L1441.88,1309.85 L1446.00,1310.58 L1450.12,1311.30 L1454.24,1312.01 L1458.36,1312.72 L1462.48,1313.42 L1466.60,1314.12 L1470.72,1314.81 L1474.85,1315.49 L1478.97,1316.17 L1483.09,1316.84 L1487.21,1317.51 L1491.33,1318.17 L1495.45,1318.82 L1499.57,1319.47 L1503.69,1320.11 L1507.82,1320.75 L1511.94,1321.38 L1516.06,1322.01 L1520.18,1322.63 L1524.30,1323.24 L1528.42,1323.85 L1532.54,1324.46 L1536.66,1325.06 L1540.78,1325.66 L1544.91,1326.25 L1549.03,1326.83 L1553.15,1327.41 L1557.27,1327.99 L1561.39,1328.56 L1565.51,1329.13 L1569.63,1329.69 L1573.75,1330.25 L1577.88,1330.80 L1582.00,1331.35 L1586.12,1331.90 L1590.24,1332.44 L1594.36,1332.97 L1598.48,1333.50 L1602.60,1334.03 L1606.72,1334.56 L1610.85,1335.08 L1614.97,1335.59 L1619.09,1336.10 L1623.21,1336.61 L1627.33,1337.12 L1631.45,1337.62 L1635.57,1338.11 L1639.69,1338.61 L1643.82,1339.09 L1647.94,1339.58 L1652.06,1340.06 L1656.18,1340.54 L1660.30,1341.01 L1664.42,1341.48 L1668.54,1341.95 L1672.66,1342.41 L1676.79,1342.87 L1680.91,1343.33 L1685.03,1343.78 L1689.15,1344.23 L1693.27,1344.67 L1697.39,1345.11 L1701.51,1345.55 L1705.63,1345.98 L1709.76,1346.41 L1713.88,1346.84 L1718.00,1347.26 L1722.12,1347.68 L1726.24,1348.10 L1730.36,1348.51 L1734.48,1348.92 L1738.61,1349.32 L1742.73,1349.72 L1746.85,1350.12 L1750.97,1350.51 L1755.09,1350.90 L1759.21,1351.29 L1763.33,1351.67 L1767.45,1352.05 L1771.58,1352.42 L1775.70,1352.79 L1779.82,1353.16 L1783.94,1353.52 L1788.06,1353.88 L1792.18,1354.23 L1796.30,1354.58 L1800.42,1354.93 L1804.54,1355.27 L1808.67,1355.60 L1812.79,1355.94 L1816.91,1356.26 L1821.03,1356.59 L1825.15,1356.90 L1829.27,1357.22 L1833.39,1357.53 L1837.51,1357.83 L1841.64,1358.13 L1845.76,1358.43 L1849.88,1358.72 L1854.00,1359.00" stroke="#0072C6" stroke-dasharray="25.25 15.15" stroke-dashoffset="-1.0"/>
<path d="M205.50,59.00 L209.62,65.83 L213.74,72.69 L217.86,79.58 L221.99,86.49 L226.11,93.43 L230.23,100.38 L234.35,107.36 L238.47,114.35 L242.59,121.36 L246.71,128.39 L250.83,135.42 L254.95,142.47 L259.08,149.53 L263.20,156.59 L267.32,163.66 L271.44,170.74 L275.56,177.82 L279.68,184.90 L283.80,191.98 L287.93,199.06 L292.05,206.14 L296.17,213.22 L300.29,220.29 L304.41,227.36 L308.53,234.42 L312.65,241.47 L316.77,248.52 L320.89,255.55 L325.02,262.58 L329.14,269.59 L333.26,276.59 L337.38,283.57 L341.50,290.54 L345.62,297.50 L349.74,304.44 L353.87,311.36 L357.99,318.27 L362.11,325.16 L366.23,332.02 L370.35,338.87 L374.47,345.70 L378.59,352.51 L382.71,359.29 L386.83,366.06 L390.96,372.80 L395.08,379.52 L399.20,386.21 L403.32,392.88 L407.44,399.53 L411.56,406.15 L415.68,412.74 L419.81,419.31 L423.93,425.85 L428.05,432.36 L432.17,438.85 L436.29,445.31 L440.41,451.75 L444.53,458.15 L448.65,464.53 L452.77,470.87 L456.90,477.19 L461.02,483.48 L465.14,489.74 L469.26,495.97 L473.38,502.17 L477.50,508.34 L481.62,514.48 L485.75,520.59 L489.87,526.67 L493.99,532.72 L498.11,538.74 L502.23,544.73 L506.35,550.69 L510.47,556.61 L514.59,562.51 L518.71,568.37 L522.84,574.20 L526.96,580.00 L531.08,585.77 L535.20,591.51 L539.32,597.21 L543.44,602.89 L547.56,608.53 L551.68,614.14 L555.81,619.72 L559.93,625.27 L564.05,630.79 L568.17,636.28 L572.29,641.73 L576.41,647.16 L580.53,652.55 L584.65,657.91 L588.78,663.24 L592.90,668.53 L597.02,673.80 L601.14,679.04 L605.26,684.24 L609.38,689.42 L613.50,694.56 L617.62,699.67 L621.75,704.75 L625.87,709.80 L629.99,714.82 L634.11,719.81 L638.23,724.77 L642.35,729.70 L646.47,734.60 L650.60,739.47 L654.72,744.31 L658.84,749.12 L662.96,753.90 L667.08,758.65 L671.20,763.37 L675.32,768.06 L679.44,772.72 L683.57,777.35 L687.69,781.96 L691.81,786.53 L695.93,791.08 L700.05,795.59 L704.17,800.08 L708.29,804.54 L712.41,808.97 L716.53,813.38 L720.66,817.75 L724.78,822.10 L728.90,826.42 L733.02,830.72 L737.14,834.98 L741.26,839.22 L745.38,843.43 L749.50,847.61 L753.63,851.77 L757.75,855.90 L761.87,860.00 L765.99,864.08 L770.11,868.13 L774.23,872.16 L778.35,876.16 L782.48,880.13 L786.60,884.07 L790.72,888.00 L794.84,891.89 L798.96,895.76 L803.08,899.61 L807.20,903.43 L811.32,907.22 L815.44,910.99 L819.57,914.73 L823.69,918.46 L827.81,922.15 L831.93,925.82 L836.05,929.47 L840.17,933.09 L844.29,936.69 L848.41,940.27 L852.54,943.82 L856.66,947.35 L860.78,950.86 L864.90,954.34 L869.02,957.80 L873.14,961.23 L877.26,964.65 L881.38,968.04 L885.51,971.40 L889.63,974.75 L893.75,978.07 L897.87,981.37 L901.99,984.65 L906.11,987.91 L910.23,991.14 L914.36,994.36 L918.48,997.55 L922.60,1000.72 L926.72,1003.87 L930.84,1006.99 L934.96,1010.10 L939.08,1013.19 L943.20,1016.25 L947.32,1019.29 L951.45,1022.32 L955.57,1025.32 L959.69,1028.30 L963.81,1031.26 L967.93,1034.20 L972.05,1037.13 L976.17,1040.03 L980.29,1042.91 L984.42,1045.77 L988.54,1048.61 L992.66,1051.44 L996.78,1054.24 L1000.90,1057.03 L1005.02,1059.79 L1009.14,1062.54 L1013.26,1065.27 L1017.39,1067.97 L1021.51,1070.66 L1025.63,1073.34 L1029.75,1075.99 L1033.87,1078.62 L1037.99,1081.24 L1042.11,1083.84 L1046.24,1086.42 L1050.36,1088.98 L1054.48,1091.52 L1058.60,1094.05 L1062.72,1096.56 L1066.84,1099.05 L1070.96,1101.52 L1075.08,1103.98 L1079.20,1106.42 L1083.33,1108.84 L1087.45,1111.25 L1091.57,1113.63 L1095.69,1116.01 L1099.81,1118.36 L1103.93,1120.70 L1108.05,1123.02 L1112.17,1125.32 L1116.30,1127.61 L1120.42,1129.89 L1124.54,1132.14 L1128.66,1134.38 L1132.78,1136.61 L1136.90,1138.82 L1141.02,1141.01 L1145.14,1143.19 L1149.27,1145.35 L1153.39,1147.49 L1157.51,1149.63 L1161.63,1151.74 L1165.75,1153.84 L1169.87,1155.93 L1173.99,1158.00 L1178.12,1160.05 L1182.24,1162.09 L1186.36,1164.12 L1190.48,1166.13 L1194.60,1168.13 L1198.72,1170.11 L1202.84,1172.08 L1206.96,1174.04 L1211.09,1175.98 L1215.21,1177.90 L1219.33,1179.81 L1223.45,1181.71 L1227.57,1183.60 L1231.69,1185.47 L1235.81,1187.33 L1239.93,1189.17 L1244.05,1191.00 L1248.18,1192.82 L1252.30,1194.62 L1256.42,1196.41 L1260.54,1198.19 L1264.66,1199.96 L1268.78,1201.71 L1272.90,1203.45 L1277.02,1205.18 L1281.15,1206.89 L1285.27,1208.59 L1289.39,1210.28 L1293.51,1211.96 L1297.63,1213.62 L1301.75,1215.28 L1305.87,1216.92 L1309.99,1218.55 L1314.12,1220.16 L1318.24,1221.77 L1322.36,1223.36 L1326.48,1224.94 L1330.60,1226.51 L1334.72,1228.07 L1338.84,1229.62 L1342.96,1231.16 L1347.09,1232.68 L1351.21,1234.20 L1355.33,1235.70 L1359.45,1237.19 L1363.57,1238.68 L1367.69,1240.15 L1371.81,1241.61 L1375.93,1243.06 L1380.06,1244.50 L1384.18,1245.92 L1388.30,1247.34 L1392.42,1248.75 L1396.54,1250.15 L1400.66,1251.54 L1404.78,1252.92 L1408.90,1254.28 L1413.03,1255.64 L1417.15,1256.99 L1421.27,1258.33 L1425.39,1259.66 L1429.51,1260.98 L1433.63,1262.29 L1437.75,1263.59 L1441.88,1264.89 L1446.00,1266.17 L1450.12,1267.44 L1454.24,1268.71 L1458.36,1269.96 L1462.48,1271.21 L1466.60,1272.45 L1470.72,1273.68 L1474.85,1274.90 L1478.97,1276.11 L1483.09,1277.32 L1487.21,1278.51 L1491.33,1279.70 L1495.45,1280.88 L1499.57,1282.05 L1503.69,1283.21 L1507.82,1284.37 L1511.94,1285.52 L1516.06,1286.66 L1520.18,1287.79 L1524.30,1288.91 L1528.42,1290.03 L1532.54,1291.14 L1536.66,1292.24 L1540.78,1293.33 L1544.91,1294.42 L1549.03,1295.50 L1553.15,1296.57 L1557.27,1297.63 L1561.39,1298.69 L1565.51,1299.74 L1569.63,1300.79 L1573.75,1301.82 L1577.88,1302.85 L1582.00,1303.88 L1586.12,1304.89 L1590.24,1305.90 L1594.36,1306.91 L1598.48,1307.91 L1602.60,1308.90 L1606.72,1309.88 L1610.85,1310.86 L1614.97,1311.83 L1619.09,1312.80 L1623.21,1313.76 L1627.33,1314.71 L1631.45,1315.66 L1635.57,1316.60 L1639.69,1317.53 L1643.82,1318.46 L1647.94,1319.39 L1652.06,1320.30 L1656.18,1321.22 L1660.30,1322.12 L1664.42,1323.02 L1668.54,1323.92 L1672.66,1324.81 L1676.79,1325.69 L1680.91,1326.57 L1685.03,1327.45 L1689.15,1328.31 L1693.27,1329.18 L1697.39,1330.03 L1701.51,1330.89 L1705.63,1331.73 L1709.76,1332.58 L1713.88,1333.41 L1718.00,1334.25 L1722.12,1335.07 L1726.24,1335.89 L1730.36,1336.71 L1734.48,1337.52 L1738.61,1338.33 L1742.73,1339.13 L1746.85,1339.93 L1750.97,1340.72 L1755.09,1341.51 L1759.21,1342.29 L1763.33,1343.07 L1767.45,1343.84 L1771.58,1344.61 L1775.70,1345.38 L1779.82,1346.13 L1783.94,1346.89 L1788.06,1347.64 L1792.18,1348.38 L1796.30,1349.12 L1800.42,1349.86 L1804.54,1350.59 L1808.67,1351.32 L1812.79,1352.04 L1816.91,1352.76 L1821.03,1353.47 L1825.15,1354.18 L1829.27,1354.88 L1833.39,1355.58 L1837.51,1356.27 L1841.64,1356.96 L1845.76,1357.65 L1849.88,1358.32 L1854.00,1359.00" stroke="#FF4A0A" stroke-dasharray="5.05 5.05" stroke-dashoffset="-1.0"/>
<path d="M205.50,59.00 L209.62,67.44 L213.74,75.87 L217.86,84.30 L221.99,92.72 L226.11,101.13 L230.23,109.53 L234.35,117.91 L238.47,126.28 L242.59,134.64 L246.71,142.98 L250.83,151.30 L254.95,159.60 L259.08,167.89 L263.20,176.15 L267.32,184.40 L271.44,192.62 L275.56,200.81 L279.68,208.99 L283.80,217.14 L287.93,225.26 L292.05,233.35 L296.17,241.42 L300.29,249.46 L304.41,257.48 L308.53,265.46 L312.65,273.41 L316.77,281.33 L320.89,289.22 L325.02,297.08 L329.14,304.91 L333.26,312.70 L337.38,320.46 L341.50,328.18 L345.62,335.87 L349.74,343.53 L353.87,351.15 L357.99,358.73 L362.11,366.28 L366.23,373.79 L370.35,381.26 L374.47,388.70 L378.59,396.10 L382.71,403.46 L386.83,410.78 L390.96,418.07 L395.08,425.31 L399.20,432.52 L403.32,439.69 L407.44,446.82 L411.56,453.91 L415.68,460.96 L419.81,467.97 L423.93,474.94 L428.05,481.87 L432.17,488.76 L436.29,495.61 L440.41,502.42 L444.53,509.19 L448.65,515.92 L452.77,522.60 L456.90,529.25 L461.02,535.86 L465.14,542.43 L469.26,548.95 L473.38,555.44 L477.50,561.88 L481.62,568.29 L485.75,574.65 L489.87,580.97 L493.99,587.25 L498.11,593.50 L502.23,599.70 L506.35,605.86 L510.47,611.98 L514.59,618.06 L518.71,624.10 L522.84,630.10 L526.96,636.06 L531.08,641.98 L535.20,647.86 L539.32,653.71 L543.44,659.51 L547.56,665.27 L551.68,670.99 L555.81,676.68 L559.93,682.32 L564.05,687.93 L568.17,693.50 L572.29,699.03 L576.41,704.52 L580.53,709.97 L584.65,715.39 L588.78,720.76 L592.90,726.10 L597.02,731.41 L601.14,736.67 L605.26,741.90 L609.38,747.09 L613.50,752.24 L617.62,757.36 L621.75,762.44 L625.87,767.48 L629.99,772.49 L634.11,777.46 L638.23,782.39 L642.35,787.29 L646.47,792.16 L650.60,796.99 L654.72,801.78 L658.84,806.54 L662.96,811.27 L667.08,815.96 L671.20,820.62 L675.32,825.24 L679.44,829.83 L683.57,834.38 L687.69,838.90 L691.81,843.39 L695.93,847.85 L700.05,852.27 L704.17,856.66 L708.29,861.02 L712.41,865.34 L716.53,869.64 L720.66,873.90 L724.78,878.13 L728.90,882.33 L733.02,886.49 L737.14,890.63 L741.26,894.74 L745.38,898.81 L749.50,902.86 L753.63,906.87 L757.75,910.86 L761.87,914.81 L765.99,918.74 L770.11,922.63 L774.23,926.50 L778.35,930.33 L782.48,934.14 L786.60,937.92 L790.72,941.67 L794.84,945.40 L798.96,949.09 L803.08,952.76 L807.20,956.40 L811.32,960.01 L815.44,963.60 L819.57,967.16 L823.69,970.69 L827.81,974.19 L831.93,977.67 L836.05,981.12 L840.17,984.55 L844.29,987.95 L848.41,991.32 L852.54,994.67 L856.66,997.99 L860.78,1001.29 L864.90,1004.56 L869.02,1007.81 L873.14,1011.03 L877.26,1014.23 L881.38,1017.40 L885.51,1020.55 L889.63,1023.68 L893.75,1026.78 L897.87,1029.86 L901.99,1032.91 L906.11,1035.94 L910.23,1038.95 L914.36,1041.93 L918.48,1044.90 L922.60,1047.84 L926.72,1050.75 L930.84,1053.65 L934.96,1056.52 L939.08,1059.37 L943.20,1062.20 L947.32,1065.00 L951.45,1067.79 L955.57,1070.55 L959.69,1073.29 L963.81,1076.02 L967.93,1078.72 L972.05,1081.40 L976.17,1084.05 L980.29,1086.69 L984.42,1089.31 L988.54,1091.91 L992.66,1094.49 L996.78,1097.04 L1000.90,1099.58 L1005.02,1102.10 L1009.14,1104.60 L1013.26,1107.08 L1017.39,1109.54 L1021.51,1111.98 L1025.63,1114.40 L1029.75,1116.80 L1033.87,1119.19 L1037.99,1121.55 L1042.11,1123.90 L1046.24,1126.23 L1050.36,1128.54 L1054.48,1130.84 L1058.60,1133.11 L1062.72,1135.37 L1066.84,1137.61 L1070.96,1139.83 L1075.08,1142.04 L1079.20,1144.23 L1083.33,1146.40 L1087.45,1148.55 L1091.57,1150.69 L1095.69,1152.81 L1099.81,1154.91 L1103.93,1157.00 L1108.05,1159.07 L1112.17,1161.13 L1116.30,1163.16 L1120.42,1165.19 L1124.54,1167.19 L1128.66,1169.18 L1132.78,1171.16 L1136.90,1173.12 L1141.02,1175.06 L1145.14,1176.99 L1149.27,1178.91 L1153.39,1180.81 L1157.51,1182.69 L1161.63,1184.56 L1165.75,1186.41 L1169.87,1188.25 L1173.99,1190.08 L1178.12,1191.89 L1182.24,1193.68 L1186.36,1195.47 L1190.48,1197.23 L1194.60,1198.99 L1198.72,1200.73 L1202.84,1202.45 L1206.96,1204.17 L1211.09,1205.86 L1215.21,1207.55 L1219.33,1209.22 L1223.45,1210.88 L1227.57,1212.53 L1231.69,1214.16 L1235.81,1215.78 L1239.93,1217.39 L1244.05,1218.98 L1248.18,1220.56 L1252.30,1222.13 L1256.42,1223.69 L1260.54,1225.23 L1264.66,1226.76 L1268.78,1228.28 L1272.90,1229.79 L1277.02,1231.28 L1281.15,1232.77 L1285.27,1234.24 L1289.39,1235.70 L1293.51,1237.15 L1297.63,1238.58 L1301.75,1240.01 L1305.87,1241.42 L1309.99,1242.83 L1314.12,1244.22 L1318.24,1245.60 L1322.36,1246.97 L1326.48,1248.33 L1330.60,1249.67 L1334.72,1251.01 L1338.84,1252.34 L1342.96,1253.65 L1347.09,1254.96 L1351.21,1256.25 L1355.33,1257.54 L1359.45,1258.81 L1363.57,1260.08 L1367.69,1261.33 L1371.81,1262.57 L1375.93,1263.81 L1380.06,1265.03 L1384.18,1266.25 L1388.30,1267.45 L1392.42,1268.65 L1396.54,1269.84 L1400.66,1271.01 L1404.78,1272.18 L1408.90,1273.34 L1413.03,1274.49 L1417.15,1275.63 L1421.27,1276.76 L1425.39,1277.88 L1429.51,1279.00 L1433.63,1280.10 L1437.75,1281.20 L1441.88,1282.28 L1446.00,1283.36 L1450.12,1284.43 L1454.24,1285.50 L1458.36,1286.55 L1462.48,1287.59 L1466.60,1288.63 L1470.72,1289.66 L1474.85,1290.68 L1478.97,1291.70 L1483.09,1292.70 L1487.21,1293.70 L1491.33,1294.69 L1495.45,1295.67 L1499.57,1296.65 L1503.69,1297.61 L1507.82,1298.57 L1511.94,1299.53 L1516.06,1300.47 L1520.18,1301.41 L1524.30,1302.34 L1528.42,1303.27 L1532.54,1304.18 L1536.66,1305.09 L1540.78,1306.00 L1544.91,1306.89 L1549.03,1307.78 L1553.15,1308.66 L1557.27,1309.54 L1561.39,1310.41 L1565.51,1311.27 L1569.63,1312.13 L1573.75,1312.98 L1577.88,1313.83 L1582.00,1314.66 L1586.12,1315.49 L1590.24,1316.32 L1594.36,1317.14 L1598.48,1317.95 L1602.60,1318.76 L1606.72,1319.56 L1610.85,1320.36 L1614.97,1321.15 L1619.09,1321.94 L1623.21,1322.71 L1627.33,1323.49 L1631.45,1324.26 L1635.57,1325.02 L1639.69,1325.78 L1643.82,1326.53 L1647.94,1327.27 L1652.06,1328.02 L1656.18,1328.75 L1660.30,1329.48 L1664.42,1330.21 L1668.54,1330.93 L1672.66,1331.65 L1676.79,1332.36 L1680.91,1333.06 L1685.03,1333.77 L1689.15,1334.46 L1693.27,1335.16 L1697.39,1335.84 L1701.51,1336.53 L1705.63,1337.20 L1709.76,1337.88 L1713.88,1338.55 L1718.00,1339.21 L1722.12,1339.87 L1726.24,1340.53 L1730.36,1341.18 L1734.48,1341.83 L1738.61,1342.48 L1742.73,1343.12 L1746.85,1343.75 L1750.97,1344.38 L1755.09,1345.01 L1759.21,1345.64 L1763.33,1346.26 L1767.45,1346.87 L1771.58,1347.49 L1775.70,1348.09 L1779.82,1348.70 L1783.94,1349.30 L1788.06,1349.90 L1792.18,1350.49 L1796.30,1351.08 L1800.42,1351.67 L1804.54,1352.25 L1808.67,1352.83 L1812.79,1353.41 L1816.91,1353.99 L1821.03,1354.56 L1825.15,1355.12 L1829.27,1355.69 L1833.39,1356.25 L1837.51,1356.80 L1841.64,1357.36 L1845.76,1357.91 L1849.88,1358.46 L1854.00,1359.00" stroke="#FFAE00" stroke-dasharray="5.05 5.05" stroke-dashoffset="-1.0"/>
<path d="M205.50,59.00 L209.62,68.84 L213.74,78.65 L217.86,88.45 L221.99,98.23 L226.11,107.98 L230.23,117.70 L234.35,127.40 L238.47,137.07 L242.59,146.71 L246.71,156.31 L250.83,165.88 L254.95,175.41 L259.08,184.91 L263.20,194.37 L267.32,203.79 L271.44,213.16 L275.56,222.50 L279.68,231.79 L283.80,241.03 L287.93,250.23 L292.05,259.39 L296.17,268.49 L300.29,277.55 L304.41,286.56 L308.53,295.52 L312.65,304.42 L316.77,313.28 L320.89,322.09 L325.02,330.84 L329.14,339.54 L333.26,348.19 L337.38,356.78 L341.50,365.32 L345.62,373.80 L349.74,382.23 L353.87,390.60 L357.99,398.92 L362.11,407.18 L366.23,415.38 L370.35,423.53 L374.47,431.62 L378.59,439.66 L382.71,447.64 L386.83,455.56 L390.96,463.43 L395.08,471.23 L399.20,478.98 L403.32,486.68 L407.44,494.32 L411.56,501.90 L415.68,509.42 L419.81,516.88 L423.93,524.29 L428.05,531.65 L432.17,538.94 L436.29,546.18 L440.41,553.37 L444.53,560.50 L448.65,567.57 L452.77,574.59 L456.90,581.55 L461.02,588.45 L465.14,595.30 L469.26,602.10 L473.38,608.84 L477.50,615.53 L481.62,622.16 L485.75,628.74 L489.87,635.27 L493.99,641.74 L498.11,648.17 L502.23,654.53 L506.35,660.85 L510.47,667.11 L514.59,673.33 L518.71,679.49 L522.84,685.60 L526.96,691.66 L531.08,697.67 L535.20,703.63 L539.32,709.54 L543.44,715.40 L547.56,721.22 L551.68,726.98 L555.81,732.70 L559.93,738.37 L564.05,743.99 L568.17,749.56 L572.29,755.09 L576.41,760.57 L580.53,766.01 L584.65,771.40 L588.78,776.74 L592.90,782.04 L597.02,787.30 L601.14,792.51 L605.26,797.68 L609.38,802.80 L613.50,807.88 L617.62,812.92 L621.75,817.92 L625.87,822.87 L629.99,827.78 L634.11,832.65 L638.23,837.48 L642.35,842.27 L646.47,847.02 L650.60,851.73 L654.72,856.40 L658.84,861.03 L662.96,865.63 L667.08,870.18 L671.20,874.69 L675.32,879.17 L679.44,883.61 L683.57,888.02 L687.69,892.38 L691.81,896.71 L695.93,901.00 L700.05,905.26 L704.17,909.48 L708.29,913.67 L712.41,917.82 L716.53,921.94 L720.66,926.02 L724.78,930.07 L728.90,934.08 L733.02,938.07 L737.14,942.01 L741.26,945.93 L745.38,949.81 L749.50,953.66 L753.63,957.48 L757.75,961.27 L761.87,965.02 L765.99,968.75 L770.11,972.44 L774.23,976.10 L778.35,979.74 L782.48,983.34 L786.60,986.91 L790.72,990.45 L794.84,993.97 L798.96,997.45 L803.08,1000.91 L807.20,1004.33 L811.32,1007.73 L815.44,1011.10 L819.57,1014.44 L823.69,1017.76 L827.81,1021.05 L831.93,1024.31 L836.05,1027.54 L840.17,1030.75 L844.29,1033.93 L848.41,1037.08 L852.54,1040.21 L856.66,1043.31 L860.78,1046.38 L864.90,1049.43 L869.02,1052.46 L873.14,1055.46 L877.26,1058.44 L881.38,1061.39 L885.51,1064.31 L889.63,1067.22 L893.75,1070.09 L897.87,1072.95 L901.99,1075.78 L906.11,1078.59 L910.23,1081.37 L914.36,1084.13 L918.48,1086.87 L922.60,1089.58 L926.72,1092.28 L930.84,1094.95 L934.96,1097.59 L939.08,1100.22 L943.20,1102.82 L947.32,1105.40 L951.45,1107.97 L955.57,1110.50 L959.69,1113.02 L963.81,1115.52 L967.93,1118.00 L972.05,1120.45 L976.17,1122.89 L980.29,1125.30 L984.42,1127.69 L988.54,1130.07 L992.66,1132.42 L996.78,1134.76 L1000.90,1137.07 L1005.02,1139.37 L1009.14,1141.64 L1013.26,1143.90 L1017.39,1146.13 L1021.51,1148.35 L1025.63,1150.55 L1029.75,1152.73 L1033.87,1154.90 L1037.99,1157.04 L1042.11,1159.17 L1046.24,1161.27 L1050.36,1163.36 L1054.48,1165.43 L1058.60,1167.49 L1062.72,1169.52 L1066.84,1171.54 L1070.96,1173.55 L1075.08,1175.53 L1079.20,1177.50 L1083.33,1179.45 L1087.45,1181.38 L1091.57,1183.30 L1095.69,1185.20 L1099.81,1187.08 L1103.93,1188.95 L1108.05,1190.80 L1112.17,1192.64 L1116.30,1194.45 L1120.42,1196.26 L1124.54,1198.05 L1128.66,1199.82 L1132.78,1201.57 L1136.90,1203.32 L1141.02,1205.04 L1145.14,1206.75 L1149.27,1208.45 L1153.39,1210.13 L1157.51,1211.80 L1161.63,1213.45 L1165.75,1215.08 L1169.87,1216.71 L1173.99,1218.31 L1178.12,1219.91 L1182.24,1221.49 L1186.36,1223.05 L1190.48,1224.61 L1194.60,1226.14 L1198.72,1227.67 L1202.84,1229.18 L1206.96,1230.68 L1211.09,1232.16 L1215.21,1233.63 L1219.33,1235.09 L1223.45,1236.53 L1227.57,1237.97 L1231.69,1239.38 L1235.81,1240.79 L1239.93,1242.18 L1244.05,1243.56 L1248.18,1244.93 L1252.30,1246.29 L1256.42,1247.63 L1260.54,1248.97 L1264.66,1250.29 L1268.78,1251.59 L1272.90,1252.89 L1277.02,1254.18 L1281.15,1255.45 L1285.27,1256.71 L1289.39,1257.96 L1293.51,1259.20 L1297.63,1260.43 L1301.75,1261.65 L1305.87,1262.85 L1309.99,1264.05 L1314.12,1265.23 L1318.24,1266.40 L1322.36,1267.57 L1326.48,1268.72 L1330.60,1269.86 L1334.72,1270.99 L1338.84,1272.12 L1342.96,1273.23 L1347.09,1274.33 L1351.21,1275.42 L1355.33,1276.50 L1359.45,1277.58 L1363.57,1278.64 L1367.69,1279.69 L1371.81,1280.73 L1375.93,1281.77 L1380.06,1282.79 L1384.18,1283.81 L1388.30,1284.82 L1392.42,1285.81 L1396.54,1286.80 L1400.66,1287.78 L1404.78,1288.76 L1408.90,1289.72 L1413.03,1290.67 L1417.15,1291.62 L1421.27,1292.56 L1425.39,1293.49 L1429.51,1294.41 L1433.63,1295.32 L1437.75,1296.23 L1441.88,1297.12 L1446.00,1298.01 L1450.12,1298.90 L1454.24,1299.77 L1458.36,1300.64 L1462.48,1301.50 L1466.60,1302.35 L1470.72,1303.19 L1474.85,1304.03 L1478.97,1304.86 L1483.09,1305.68 L1487.21,1306.50 L1491.33,1307.31 L1495.45,1308.11 L1499.57,1308.91 L1503.69,1309.69 L1507.82,1310.48 L1511.94,1311.25 L1516.06,1312.02 L1520.18,1312.79 L1524.30,1313.54 L1528.42,1314.29 L1532.54,1315.04 L1536.66,1315.78 L1540.78,1316.51 L1544.91,1317.23 L1549.03,1317.96 L1553.15,1318.67 L1557.27,1319.38 L1561.39,1320.08 L1565.51,1320.78 L1569.63,1321.47 L1573.75,1322.16 L1577.88,1322.84 L1582.00,1323.52 L1586.12,1324.19 L1590.24,1324.86 L1594.36,1325.52 L1598.48,1326.18 L1602.60,1326.83 L1606.72,1327.47 L1610.85,1328.11 L1614.97,1328.75 L1619.09,1329.38 L1623.21,1330.01 L1627.33,1330.63 L1631.45,1331.25 L1635.57,1331.86 L1639.69,1332.47 L1643.82,1333.08 L1647.94,1333.68 L1652.06,1334.28 L1656.18,1334.87 L1660.30,1335.46 L1664.42,1336.04 L1668.54,1336.62 L1672.66,1337.19 L1676.79,1337.77 L1680.91,1338.33 L1685.03,1338.90 L1689.15,1339.46 L1693.27,1340.01 L1697.39,1340.56 L1701.51,1341.11 L1705.63,1341.66 L1709.76,1342.20 L1713.88,1342.74 L1718.00,1343.27 L1722.12,1343.80 L1726.24,1344.33 L1730.36,1344.85 L1734.48,1345.37 L1738.61,1345.89 L1742.73,1346.40 L1746.85,1346.91 L1750.97,1347.41 L1755.09,1347.92 L1759.21,1348.42 L1763.33,1348.91 L1767.45,1349.41 L1771.58,1349.89 L1775.70,1350.38 L1779.82,1350.86 L1783.94,1351.34 L1788.06,1351.82 L1792.18,1352.29 L1796.30,1352.76 L1800.42,1353.23 L1804.54,1353.69 L1808.67,1354.15 L1812.79,1354.61 L1816.91,1355.06 L1821.03,1355.51 L1825.15,1355.96 L1829.27,1356.41 L1833.39,1356.85 L1837.51,1357.28 L1841.64,1357.72 L1845.76,1358.15 L1849.88,1358.58 L1854.00,1359.00" stroke="#8E1F9E" stroke-dasharray="5.05 5.05" stroke-dashoffset="-1.0"/>
<path d="M205.50,59.00 L209.62,70.28 L213.74,81.53 L217.86,92.74 L221.99,103.91 L226.11,115.03 L230.23,126.11 L234.35,137.14 L238.47,148.12 L242.59,159.05 L246.71,169.92 L250.83,180.74 L254.95,191.50 L259.08,202.20 L263.20,212.84 L267.32,223.41 L271.44,233.93 L275.56,244.37 L279.68,254.75 L283.80,265.07 L287.93,275.31 L292.05,285.49 L296.17,295.59 L300.29,305.62 L304.41,315.58 L308.53,325.47 L312.65,335.29 L316.77,345.03 L320.89,354.69 L325.02,364.28 L329.14,373.80 L333.26,383.24 L337.38,392.61 L341.50,401.89 L345.62,411.11 L349.74,420.24 L353.87,429.30 L357.99,438.29 L362.11,447.19 L366.23,456.02 L370.35,464.78 L374.47,473.45 L378.59,482.06 L382.71,490.58 L386.83,499.03 L390.96,507.40 L395.08,515.70 L399.20,523.92 L403.32,532.07 L407.44,540.15 L411.56,548.15 L415.68,556.07 L419.81,563.93 L423.93,571.71 L428.05,579.41 L432.17,587.05 L436.29,594.61 L440.41,602.10 L444.53,609.52 L448.65,616.87 L452.77,624.15 L456.90,631.37 L461.02,638.51 L465.14,645.58 L469.26,652.59 L473.38,659.53 L477.50,666.40 L481.62,673.21 L485.75,679.95 L489.87,686.63 L493.99,693.24 L498.11,699.79 L502.23,706.27 L506.35,712.70 L510.47,719.06 L514.59,725.36 L518.71,731.59 L522.84,737.77 L526.96,743.89 L531.08,749.95 L535.20,755.95 L539.32,761.89 L543.44,767.77 L547.56,773.60 L551.68,779.37 L555.81,785.09 L559.93,790.75 L564.05,796.35 L568.17,801.91 L572.29,807.40 L576.41,812.85 L580.53,818.24 L584.65,823.58 L588.78,828.87 L592.90,834.11 L597.02,839.30 L601.14,844.44 L605.26,849.53 L609.38,854.57 L613.50,859.57 L617.62,864.51 L621.75,869.41 L625.87,874.26 L629.99,879.07 L634.11,883.83 L638.23,888.55 L642.35,893.22 L646.47,897.85 L650.60,902.43 L654.72,906.97 L658.84,911.47 L662.96,915.92 L667.08,920.34 L671.20,924.71 L675.32,929.04 L679.44,933.33 L683.57,937.58 L687.69,941.80 L691.81,945.97 L695.93,950.10 L700.05,954.20 L704.17,958.26 L708.29,962.28 L712.41,966.26 L716.53,970.21 L720.66,974.12 L724.78,977.99 L728.90,981.83 L733.02,985.63 L737.14,989.40 L741.26,993.13 L745.38,996.83 L749.50,1000.50 L753.63,1004.13 L757.75,1007.73 L761.87,1011.30 L765.99,1014.83 L770.11,1018.33 L774.23,1021.80 L778.35,1025.24 L782.48,1028.65 L786.60,1032.02 L790.72,1035.37 L794.84,1038.68 L798.96,1041.97 L803.08,1045.22 L807.20,1048.45 L811.32,1051.65 L815.44,1054.81 L819.57,1057.95 L823.69,1061.06 L827.81,1064.15 L831.93,1067.20 L836.05,1070.23 L840.17,1073.23 L844.29,1076.20 L848.41,1079.15 L852.54,1082.07 L856.66,1084.96 L860.78,1087.83 L864.90,1090.67 L869.02,1093.48 L873.14,1096.27 L877.26,1099.04 L881.38,1101.78 L885.51,1104.49 L889.63,1107.18 L893.75,1109.85 L897.87,1112.49 L901.99,1115.11 L906.11,1117.70 L910.23,1120.27 L914.36,1122.82 L918.48,1125.34 L922.60,1127.84 L926.72,1130.32 L930.84,1132.77 L934.96,1135.21 L939.08,1137.62 L943.20,1140.01 L947.32,1142.37 L951.45,1144.72 L955.57,1147.04 L959.69,1149.34 L963.81,1151.62 L967.93,1153.88 L972.05,1156.12 L976.17,1158.34 L980.29,1160.54 L984.42,1162.71 L988.54,1164.87 L992.66,1167.01 L996.78,1169.12 L1000.90,1171.22 L1005.02,1173.30 L1009.14,1175.36 L1013.26,1177.40 L1017.39,1179.42 L1021.51,1181.42 L1025.63,1183.40 L1029.75,1185.36 L1033.87,1187.31 L1037.99,1189.23 L1042.11,1191.14 L1046.24,1193.03 L1050.36,1194.91 L1054.48,1196.76 L1058.60,1198.60 L1062.72,1200.42 L1066.84,1202.22 L1070.96,1204.00 L1075.08,1205.77 L1079.20,1207.52 L1083.33,1209.25 L1087.45,1210.97 L1091.57,1212.67 L1095.69,1214.36 L1099.81,1216.02 L1103.93,1217.68 L1108.05,1219.31 L1112.17,1220.93 L1116.30,1222.54 L1120.42,1224.12 L1124.54,1225.70 L1128.66,1227.25 L1132.78,1228.80 L1136.90,1230.32 L1141.02,1231.84 L1145.14,1233.33 L1149.27,1234.82 L1153.39,1236.28 L1157.51,1237.74 L1161.63,1239.18 L1165.75,1240.60 L1169.87,1242.01 L1173.99,1243.41 L1178.12,1244.79 L1182.24,1246.16 L1186.36,1247.52 L1190.48,1248.86 L1194.60,1250.19 L1198.72,1251.50 L1202.84,1252.81 L1206.96,1254.09 L1211.09,1255.37 L1215.21,1256.63 L1219.33,1257.89 L1223.45,1259.12 L1227.57,1260.35 L1231.69,1261.56 L1235.81,1262.77 L1239.93,1263.96 L1244.05,1265.13 L1248.18,1266.30 L1252.30,1267.45 L1256.42,1268.60 L1260.54,1269.73 L1264.66,1270.85 L1268.78,1271.96 L1272.90,1273.06 L1277.02,1274.14 L1281.15,1275.22 L1285.27,1276.28 L1289.39,1277.34 L1293.51,1278.38 L1297.63,1279.41 L1301.75,1280.44 L1305.87,1281.45 L1309.99,1282.45 L1314.12,1283.45 L1318.24,1284.43 L1322.36,1285.40 L1326.48,1286.37 L1330.60,1287.32 L1334.72,1288.26 L1338.84,1289.20 L1342.96,1290.13 L1347.09,1291.04 L1351.21,1291.95 L1355.33,1292.85 L1359.45,1293.74 L1363.57,1294.62 L1367.69,1295.49 L1371.81,1296.36 L1375.93,1297.21 L1380.06,1298.06 L1384.18,1298.90 L1388.30,1299.73 L1392.42,1300.56 L1396.54,1301.37 L1400.66,1302.18 L1404.78,1302.98 L1408.90,1303.77 L1413.03,1304.56 L1417.15,1305.33 L1421.27,1306.10 L1425.39,1306.87 L1429.51,1307.62 L1433.63,1308.37 L1437.75,1309.11 L1441.88,1309.85 L1446.00,1310.58 L1450.12,1311.30 L1454.24,1312.01 L1458.36,1312.72 L1462.48,1313.42 L1466.60,1314.12 L1470.72,1314.81 L1474.85,1315.49 L1478.97,1316.17 L1483.09,1316.84 L1487.21,1317.51 L1491.33,1318.17 L1495.45,1318.82 L1499.57,1319.47 L1503.69,1320.11 L1507.82,1320.75 L1511.94,1321.38 L1516.06,1322.01 L1520.18,1322.63 L1524.30,1323.24 L1528.42,1323.85 L1532.54,1324.46 L1536.66,1325.06 L1540.78,1325.66 L1544.91,1326.25 L1549.03,1326.83 L1553.15,1327.41 L1557.27,1327.99 L1561.39,1328.56 L1565.51,1329.13 L1569.63,1329.69 L1573.75,1330.25 L1577.88,1330.80 L1582.00,1331.35 L1586.12,1331.90 L1590.24,1332.44 L1594.36,1332.97 L1598.48,1333.50 L1602.60,1334.03 L1606.72,1334.56 L1610.85,1335.08 L1614.97,1335.59 L1619.09,1336.10 L1623.21,1336.61 L1627.33,1337.12 L1631.45,1337.62 L1635.57,1338.11 L1639.69,1338.61 L1643.82,1339.09 L1647.94,1339.58 L1652.06,1340.06 L1656.18,1340.54 L1660.30,1341.01 L1664.42,1341.48 L1668.54,1341.95 L1672.66,1342.41 L1676.79,1342.87 L1680.91,1343.33 L1685.03,1343.78 L1689.15,1344.23 L1693.27,1344.67 L1697.39,1345.11 L1701.51,1345.55 L1705.63,1345.98 L1709.76,1346.41 L1713.88,1346.84 L1718.00,1347.26 L1722.12,1347.68 L1726.24,1348.10 L1730.36,1348.51 L1734.48,1348.92 L1738.61,1349.32 L1742.73,1349.72 L1746.85,1350.12 L1750.97,1350.51 L1755.09,1350.90 L1759.21,1351.29 L1763.33,1351.67 L1767.45,1352.05 L1771.58,1352.42 L1775.70,1352.79 L1779.82,1353.16 L1783.94,1353.52 L1788.06,1353.88 L1792.18,1354.23 L1796.30,1354.58 L1800.42,1354.93 L1804.54,1355.27 L1808.67,1355.60 L1812.79,1355.94 L1816.91,1356.26 L1821.03,1356.59 L1825.15,1356.90 L1829.27,1357.22 L1833.39,1357.53 L1837.51,1357.83 L1841.64,1358.13 L1845.76,1358.43 L1849.88,1358.72 L1854.00,1359.00" stroke="#4DAE1E" stroke-dasharray="5.05 5.05" stroke-dashoffset="-1.0"/>
</g>
<g font-family="'Liberation Serif', serif" font-size="62" fill="#0a0a0a" stroke="#fff" stroke-width="0.35">
<text transform="translate(205.50,1437.2) scale(0.97,1.03)" text-anchor="middle">0</text>
<text transform="translate(480.25,1437.2) scale(0.97,1.03)" text-anchor="middle">1</text>
<text transform="translate(755.00,1437.2) scale(0.97,1.03)" text-anchor="middle">2</text>
<text transform="translate(1029.75,1437.2) scale(0.97,1.03)" text-anchor="middle">3</text>
<text transform="translate(1304.50,1437.2) scale(0.97,1.03)" text-anchor="middle">4</text>
<text transform="translate(1579.25,1437.2) scale(0.97,1.03)" text-anchor="middle">5</text>
<text transform="translate(1854.00,1437.2) scale(0.97,1.03)" text-anchor="middle">6</text>
<text transform="translate(183.5,1380.60) scale(0.97,1.03)" text-anchor="end">0</text>
<text transform="translate(182.3,1250.60) scale(0.97,1.03)" text-anchor="end">0.1</text>
<text transform="translate(182.3,1120.60) scale(0.97,1.03)" text-anchor="end">0.2</text>
<text transform="translate(182.3,990.60) scale(0.97,1.03)" text-anchor="end">0.3</text>
<text transform="translate(182.3,860.60) scale(0.97,1.03)" text-anchor="end">0.4</text>
<text transform="translate(182.3,730.60) scale(0.97,1.03)" text-anchor="end">0.5</text>
<text transform="translate(182.3,600.60) scale(0.97,1.03)" text-anchor="end">0.6</text>
<text transform="translate(182.3,470.60) scale(0.97,1.03)" text-anchor="end">0.7</text>
<text transform="translate(182.3,340.60) scale(0.97,1.03)" text-anchor="end">0.8</text>
<text transform="translate(182.3,210.60) scale(0.97,1.03)" text-anchor="end">0.9</text>
<text transform="translate(182.3,80.60) scale(0.97,1.03)" text-anchor="end">1</text>
</g>
<g font-family="'Liberation Serif', serif" font-style="italic" font-size="66" fill="#0a0a0a" stroke="#fff" stroke-width="0.35">
<text x="1030" y="1519" text-anchor="middle">η</text>
<text transform="translate(76,701.5) rotate(-90)" text-anchor="middle">ζ(η)</text>
</g>
</g>
<g stroke="#000" fill="none">
<line x1="1073.5" y1="145.5" x2="1352.7" y2="142.3" stroke-width="6.8" stroke-linecap="round"/>
<line x1="1077.9" y1="218.8" x2="1337.9" y2="216.4" stroke-width="8" stroke-dasharray="34.5 22"/>
<line x1="1075" y1="290.5" x2="1354" y2="288.4" stroke-width="7.8" stroke-dasharray="9.4 6.64"/>
</g>
<g font-family="'Liberation Serif', serif" font-size="64" fill="#000">
<text x="1440.7" y="169.4" font-size="70.7" stroke="#fff" stroke-width="2.8">:</text>
<text x="1489.2 1548.0 1593.3 1638.3" y="167.6">Cone</text>
<text x="1440.7" y="243.8" font-size="70.7" stroke="#fff" stroke-width="2.8">:</text>
<text x="1489.6 1572.0 1611.0 1655.8 1700.8" y="242.0">Wedge</text>
<text x="1440.7" y="317.0" font-size="70.7" stroke="#fff" stroke-width="2.8">:</text>
<text x="1489.3 1538.7 1563.5 1600.9 1625.6" y="315.2">Plate</text>
</g>
<g font-family="'Liberation Serif', serif" font-size="91" fill="#000">
<text x="753.2" y="522.5" font-style="italic" textLength="95.1" lengthAdjust="spacingAndGlyphs">Su</text>
<text transform="translate(864.5,527) scale(1.168,1)">=</text>
<text transform="translate(935.6,527) scale(1.149,1)">−</text>
<text x="990.35 1034.9 1054.5 1100" y="522.5">0.3,</text>
<text transform="translate(1126.5,527) scale(1.137,1)">−</text>
<text x="1180.75 1225.3 1246.2 1284.3" y="522.5">0.1,</text>
<text x="1316.5 1361 1382 1420.1" y="522.5">0.1,</text>
<text x="1451.7 1496.7 1515.85" y="522.5">0.3</text>
</g>
<line x1="1046.8" y1="546.8" x2="496.2" y2="1203.6" stroke="#222" stroke-width="2.6"/>
<polygon points="472,1231.4 490.4,1179.4 495.2,1203.6 519.9,1204.8" fill="#000"/>
</svg>
</body></html>
